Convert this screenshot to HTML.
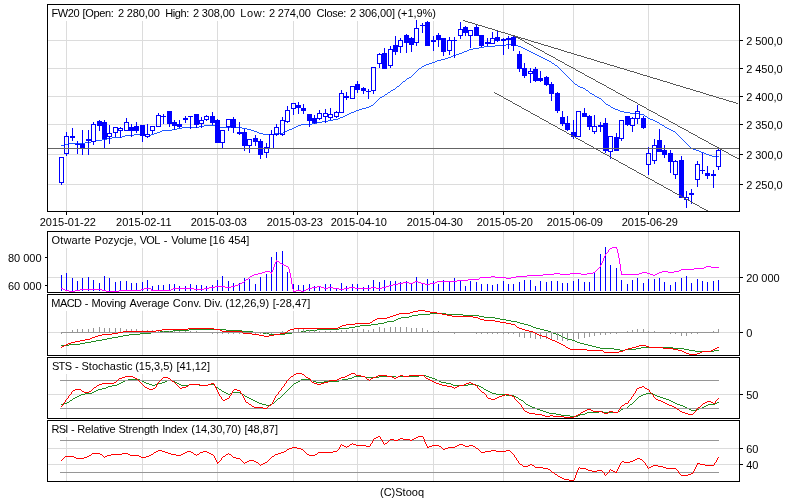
<!DOCTYPE html>
<html><head><meta charset="utf-8"><title>FW20</title>
<style>
html,body{margin:0;padding:0;background:#fff;overflow:hidden}
svg{display:block;will-change:transform}
text{font-family:"Liberation Sans",sans-serif;font-size:11px;fill:#000}
</style></head><body>
<svg width="800" height="500" viewBox="0 0 800 500" shape-rendering="crispEdges">
<rect x="0" y="0" width="800" height="500" fill="#fff"/>
<rect x="66" y="5" width="1" height="206" fill="#dcdcdc"/>
<rect x="142" y="5" width="1" height="206" fill="#dcdcdc"/>
<rect x="217" y="5" width="1" height="206" fill="#dcdcdc"/>
<rect x="293" y="5" width="1" height="206" fill="#dcdcdc"/>
<rect x="357" y="5" width="1" height="206" fill="#dcdcdc"/>
<rect x="433" y="5" width="1" height="206" fill="#dcdcdc"/>
<rect x="503" y="5" width="1" height="206" fill="#dcdcdc"/>
<rect x="573" y="5" width="1" height="206" fill="#dcdcdc"/>
<rect x="648" y="5" width="1" height="206" fill="#dcdcdc"/>
<rect x="48" y="40" width="691" height="1" fill="#dcdcdc"/>
<rect x="48" y="68" width="691" height="1" fill="#dcdcdc"/>
<rect x="48" y="96" width="691" height="1" fill="#dcdcdc"/>
<rect x="48" y="124" width="691" height="1" fill="#dcdcdc"/>
<rect x="48" y="154" width="691" height="1" fill="#dcdcdc"/>
<rect x="48" y="184" width="691" height="1" fill="#dcdcdc"/>
<rect x="48" y="5" width="391" height="16" fill="#fff"/>
<path fill="#2058ff" d="M506 44h9v1h-9zM495 45h11v1h-11zM515 45h3v1h-3zM484 46h11v1h-11zM518 46h3v1h-3zM479 47h5v1h-5zM521 47h2v1h-2zM473 48h6v1h-6zM523 48h2v1h-2zM469 49h4v1h-4zM525 49h2v1h-2zM467 50h2v1h-2zM527 50h2v1h-2zM464 51h3v1h-3zM529 51h2v1h-2zM462 52h2v1h-2zM531 52h2v1h-2zM459 53h3v1h-3zM533 53h2v1h-2zM456 54h3v1h-3zM535 54h2v1h-2zM453 55h3v1h-3zM537 55h2v1h-2zM451 56h2v1h-2zM539 56h2v1h-2zM448 57h3v1h-3zM541 57h2v1h-2zM445 58h3v1h-3zM543 58h2v1h-2zM441 59h4v1h-4zM545 59h2v1h-2zM437 60h4v1h-4zM547 60h2v1h-2zM435 61h2v1h-2zM549 61h2v1h-2zM432 62h3v1h-3zM551 62h1v1h-1zM429 63h3v1h-3zM552 63h2v1h-2zM426 64h3v1h-3zM554 64h1v1h-1zM424 65h2v1h-2zM555 65h2v1h-2zM422 66h2v1h-2zM557 66h1v1h-1zM421 67h1v1h-1zM558 67h1v1h-1zM419 68h2v1h-2zM559 68h1v1h-1zM418 69h1v1h-1zM560 69h1v1h-1zM417 70h1v1h-1zM561 70h1v1h-1zM416 71h1v1h-1zM562 71h1v1h-1zM415 72h1v1h-1zM563 72h1v1h-1zM414 73h1v1h-1zM564 73h1v1h-1zM413 74h1v1h-1zM565 74h1v1h-1zM412 75h1v1h-1zM566 75h1v1h-1zM411 76h1v1h-1zM567 76h1v1h-1zM409 77h2v1h-2zM568 77h1v1h-1zM407 78h2v1h-2zM569 78h1v1h-1zM406 79h1v1h-1zM570 79h1v1h-1zM405 80h1v1h-1zM571 80h1v1h-1zM403 81h2v1h-2zM572 81h1v1h-1zM402 82h1v1h-1zM573 82h1v1h-1zM401 83h1v1h-1zM574 83h1v1h-1zM400 84h1v1h-1zM575 84h2v1h-2zM399 85h1v1h-1zM577 85h1v1h-1zM397 86h2v1h-2zM578 86h2v1h-2zM396 87h1v1h-1zM580 87h3v1h-3zM395 88h1v1h-1zM583 88h2v1h-2zM393 89h2v1h-2zM585 89h1v1h-1zM391 90h2v1h-2zM586 90h2v1h-2zM390 91h1v1h-1zM588 91h1v1h-1zM388 92h2v1h-2zM589 92h1v1h-1zM387 93h1v1h-1zM590 93h2v1h-2zM385 94h2v1h-2zM592 94h2v1h-2zM384 95h1v1h-1zM594 95h1v1h-1zM382 96h2v1h-2zM595 96h2v1h-2zM380 97h2v1h-2zM597 97h2v1h-2zM379 98h1v1h-1zM599 98h2v1h-2zM378 99h1v1h-1zM601 99h1v1h-1zM377 100h1v1h-1zM602 100h1v1h-1zM376 101h1v1h-1zM603 101h1v1h-1zM375 102h1v1h-1zM604 102h1v1h-1zM374 103h1v1h-1zM605 103h1v1h-1zM373 104h1v1h-1zM606 104h2v1h-2zM371 105h2v1h-2zM608 105h2v1h-2zM369 106h2v1h-2zM610 106h1v1h-1zM366 107h3v1h-3zM611 107h2v1h-2zM362 108h4v1h-4zM613 108h2v1h-2zM359 109h3v1h-3zM615 109h3v1h-3zM356 110h3v1h-3zM618 110h2v1h-2zM354 111h2v1h-2zM620 111h4v1h-4zM351 112h3v1h-3zM624 112h6v1h-6zM349 113h2v1h-2zM630 113h10v1h-10zM347 114h2v1h-2zM640 114h4v1h-4zM345 115h2v1h-2zM644 115h1v1h-1zM343 116h2v1h-2zM645 116h2v1h-2zM340 117h3v1h-3zM647 117h1v1h-1zM338 118h2v1h-2zM648 118h2v1h-2zM333 119h5v1h-5zM650 119h3v1h-3zM328 120h5v1h-5zM653 120h2v1h-2zM322 121h6v1h-6zM655 121h2v1h-2zM317 122h5v1h-5zM657 122h2v1h-2zM312 123h5v1h-5zM659 123h1v1h-1zM301 124h11v1h-11zM660 124h2v1h-2zM204 125h11v1h-11zM298 125h3v1h-3zM662 125h2v1h-2zM199 126h5v1h-5zM215 126h5v1h-5zM231 126h5v1h-5zM296 126h2v1h-2zM664 126h1v1h-1zM182 127h17v1h-17zM220 127h11v1h-11zM236 127h6v1h-6zM294 127h2v1h-2zM665 127h2v1h-2zM177 128h5v1h-5zM242 128h5v1h-5zM292 128h2v1h-2zM667 128h2v1h-2zM172 129h5v1h-5zM247 129h4v1h-4zM289 129h3v1h-3zM669 129h2v1h-2zM162 130h10v1h-10zM251 130h3v1h-3zM287 130h2v1h-2zM671 130h2v1h-2zM160 131h2v1h-2zM254 131h3v1h-3zM285 131h2v1h-2zM673 131h2v1h-2zM157 132h3v1h-3zM257 132h2v1h-2zM283 132h2v1h-2zM675 132h1v1h-1zM154 133h3v1h-3zM259 133h4v1h-4zM274 133h9v1h-9zM676 133h1v1h-1zM134 134h10v1h-10zM151 134h3v1h-3zM263 134h11v1h-11zM677 134h1v1h-1zM125 135h9v1h-9zM144 135h2v1h-2zM149 135h2v1h-2zM678 135h1v1h-1zM122 136h3v1h-3zM146 136h3v1h-3zM679 136h1v1h-1zM112 137h10v1h-10zM680 137h1v1h-1zM107 138h5v1h-5zM681 138h1v1h-1zM102 139h5v1h-5zM682 139h1v1h-1zM96 140h6v1h-6zM683 140h1v1h-1zM91 141h5v1h-5zM684 141h1v1h-1zM85 142h6v1h-6zM685 142h1v1h-1zM69 143h16v1h-16zM686 143h1v1h-1zM64 144h5v1h-5zM687 144h1v1h-1zM61 145h3v1h-3zM688 145h1v1h-1zM689 146h1v1h-1zM690 147h1v1h-1zM691 148h2v1h-2zM693 149h3v1h-3zM696 150h3v1h-3zM699 151h2v1h-2zM701 152h3v1h-3zM704 153h2v1h-2zM706 154h3v1h-3zM709 155h3v1h-3zM712 156h7v1h-7z"/>
<rect x="61" y="183" width="1" height="2" fill="#0000ff"/>
<rect x="59" y="157" width="5" height="1" fill="#0000ff"/>
<rect x="59" y="182" width="5" height="1" fill="#0000ff"/>
<rect x="59" y="157" width="1" height="26" fill="#0000ff"/>
<rect x="63" y="157" width="1" height="26" fill="#0000ff"/>
<rect x="66" y="132" width="1" height="4" fill="#0000ff"/>
<rect x="66" y="154" width="1" height="2" fill="#0000ff"/>
<rect x="64" y="136" width="5" height="1" fill="#0000ff"/>
<rect x="64" y="153" width="5" height="1" fill="#0000ff"/>
<rect x="64" y="136" width="1" height="18" fill="#0000ff"/>
<rect x="68" y="136" width="1" height="18" fill="#0000ff"/>
<rect x="72" y="128" width="1" height="8" fill="#0000ff"/>
<rect x="72" y="138" width="1" height="3" fill="#0000ff"/>
<rect x="70" y="136" width="5" height="2" fill="#0000ff"/>
<rect x="77" y="141" width="1" height="3" fill="#0000ff"/>
<rect x="77" y="145" width="1" height="9" fill="#0000ff"/>
<rect x="75" y="144" width="5" height="1" fill="#0000ff"/>
<rect x="82" y="130" width="1" height="14" fill="#0000ff"/>
<rect x="82" y="148" width="1" height="7" fill="#0000ff"/>
<rect x="80" y="144" width="5" height="4" fill="#0000ff"/>
<rect x="88" y="130" width="1" height="9" fill="#0000ff"/>
<rect x="88" y="141" width="1" height="14" fill="#0000ff"/>
<rect x="86" y="139" width="5" height="2" fill="#0000ff"/>
<rect x="93" y="122" width="1" height="2" fill="#0000ff"/>
<rect x="93" y="142" width="1" height="3" fill="#0000ff"/>
<rect x="91" y="124" width="5" height="1" fill="#0000ff"/>
<rect x="91" y="141" width="5" height="1" fill="#0000ff"/>
<rect x="91" y="124" width="1" height="18" fill="#0000ff"/>
<rect x="95" y="124" width="1" height="18" fill="#0000ff"/>
<rect x="99" y="120" width="1" height="1" fill="#0000ff"/>
<rect x="99" y="126" width="1" height="5" fill="#0000ff"/>
<rect x="97" y="121" width="5" height="5" fill="#0000ff"/>
<rect x="104" y="120" width="1" height="2" fill="#0000ff"/>
<rect x="104" y="139" width="1" height="9" fill="#0000ff"/>
<rect x="102" y="122" width="5" height="17" fill="#0000ff"/>
<rect x="109" y="125" width="1" height="8" fill="#0000ff"/>
<rect x="109" y="137" width="1" height="7" fill="#0000ff"/>
<rect x="107" y="133" width="5" height="1" fill="#0000ff"/>
<rect x="107" y="136" width="5" height="1" fill="#0000ff"/>
<rect x="107" y="133" width="1" height="4" fill="#0000ff"/>
<rect x="111" y="133" width="1" height="4" fill="#0000ff"/>
<rect x="115" y="133" width="1" height="4" fill="#0000ff"/>
<rect x="113" y="127" width="5" height="1" fill="#0000ff"/>
<rect x="113" y="132" width="5" height="1" fill="#0000ff"/>
<rect x="113" y="127" width="1" height="6" fill="#0000ff"/>
<rect x="117" y="127" width="1" height="6" fill="#0000ff"/>
<rect x="120" y="127" width="1" height="1" fill="#0000ff"/>
<rect x="120" y="131" width="1" height="7" fill="#0000ff"/>
<rect x="118" y="128" width="5" height="1" fill="#0000ff"/>
<rect x="118" y="130" width="5" height="1" fill="#0000ff"/>
<rect x="118" y="128" width="1" height="3" fill="#0000ff"/>
<rect x="122" y="128" width="1" height="3" fill="#0000ff"/>
<rect x="126" y="118" width="1" height="4" fill="#0000ff"/>
<rect x="124" y="122" width="5" height="1" fill="#0000ff"/>
<rect x="124" y="130" width="5" height="1" fill="#0000ff"/>
<rect x="124" y="122" width="1" height="9" fill="#0000ff"/>
<rect x="128" y="122" width="1" height="9" fill="#0000ff"/>
<rect x="131" y="124" width="1" height="3" fill="#0000ff"/>
<rect x="131" y="131" width="1" height="6" fill="#0000ff"/>
<rect x="129" y="127" width="5" height="4" fill="#0000ff"/>
<rect x="136" y="122" width="1" height="4" fill="#0000ff"/>
<rect x="136" y="131" width="1" height="2" fill="#0000ff"/>
<rect x="134" y="126" width="5" height="5" fill="#0000ff"/>
<rect x="142" y="136" width="1" height="6" fill="#0000ff"/>
<rect x="140" y="125" width="5" height="11" fill="#0000ff"/>
<rect x="147" y="124" width="1" height="10" fill="#0000ff"/>
<rect x="147" y="137" width="1" height="1" fill="#0000ff"/>
<rect x="145" y="134" width="5" height="1" fill="#0000ff"/>
<rect x="145" y="136" width="5" height="1" fill="#0000ff"/>
<rect x="145" y="134" width="1" height="3" fill="#0000ff"/>
<rect x="149" y="134" width="1" height="3" fill="#0000ff"/>
<rect x="152" y="131" width="1" height="3" fill="#0000ff"/>
<rect x="150" y="126" width="5" height="1" fill="#0000ff"/>
<rect x="150" y="130" width="5" height="1" fill="#0000ff"/>
<rect x="150" y="126" width="1" height="5" fill="#0000ff"/>
<rect x="154" y="126" width="1" height="5" fill="#0000ff"/>
<rect x="158" y="113" width="1" height="2" fill="#0000ff"/>
<rect x="156" y="115" width="5" height="1" fill="#0000ff"/>
<rect x="156" y="126" width="5" height="1" fill="#0000ff"/>
<rect x="156" y="115" width="1" height="12" fill="#0000ff"/>
<rect x="160" y="115" width="1" height="12" fill="#0000ff"/>
<rect x="163" y="114" width="1" height="2" fill="#0000ff"/>
<rect x="163" y="117" width="1" height="7" fill="#0000ff"/>
<rect x="161" y="116" width="5" height="1" fill="#0000ff"/>
<rect x="169" y="124" width="1" height="3" fill="#0000ff"/>
<rect x="167" y="111" width="5" height="13" fill="#0000ff"/>
<rect x="174" y="120" width="1" height="2" fill="#0000ff"/>
<rect x="174" y="126" width="1" height="4" fill="#0000ff"/>
<rect x="172" y="122" width="5" height="4" fill="#0000ff"/>
<rect x="179" y="120" width="1" height="4" fill="#0000ff"/>
<rect x="179" y="127" width="1" height="1" fill="#0000ff"/>
<rect x="177" y="124" width="5" height="3" fill="#0000ff"/>
<rect x="185" y="116" width="1" height="2" fill="#0000ff"/>
<rect x="185" y="120" width="1" height="3" fill="#0000ff"/>
<rect x="183" y="118" width="5" height="2" fill="#0000ff"/>
<rect x="190" y="117" width="1" height="12" fill="#0000ff"/>
<rect x="188" y="116" width="5" height="1" fill="#0000ff"/>
<rect x="196" y="125" width="1" height="3" fill="#0000ff"/>
<rect x="194" y="114" width="5" height="11" fill="#0000ff"/>
<rect x="201" y="117" width="1" height="3" fill="#0000ff"/>
<rect x="201" y="124" width="1" height="4" fill="#0000ff"/>
<rect x="199" y="120" width="5" height="1" fill="#0000ff"/>
<rect x="199" y="123" width="5" height="1" fill="#0000ff"/>
<rect x="199" y="120" width="1" height="4" fill="#0000ff"/>
<rect x="203" y="120" width="1" height="4" fill="#0000ff"/>
<rect x="206" y="115" width="1" height="1" fill="#0000ff"/>
<rect x="206" y="120" width="1" height="1" fill="#0000ff"/>
<rect x="204" y="116" width="5" height="1" fill="#0000ff"/>
<rect x="204" y="119" width="5" height="1" fill="#0000ff"/>
<rect x="204" y="116" width="1" height="4" fill="#0000ff"/>
<rect x="208" y="116" width="1" height="4" fill="#0000ff"/>
<rect x="212" y="112" width="1" height="4" fill="#0000ff"/>
<rect x="212" y="123" width="1" height="2" fill="#0000ff"/>
<rect x="210" y="116" width="5" height="7" fill="#0000ff"/>
<rect x="217" y="119" width="1" height="1" fill="#0000ff"/>
<rect x="215" y="120" width="5" height="23" fill="#0000ff"/>
<rect x="222" y="143" width="1" height="5" fill="#0000ff"/>
<rect x="220" y="130" width="5" height="1" fill="#0000ff"/>
<rect x="220" y="142" width="5" height="1" fill="#0000ff"/>
<rect x="220" y="130" width="1" height="13" fill="#0000ff"/>
<rect x="224" y="130" width="1" height="13" fill="#0000ff"/>
<rect x="228" y="127" width="1" height="4" fill="#0000ff"/>
<rect x="226" y="119" width="5" height="1" fill="#0000ff"/>
<rect x="226" y="126" width="5" height="1" fill="#0000ff"/>
<rect x="226" y="119" width="1" height="8" fill="#0000ff"/>
<rect x="230" y="119" width="1" height="8" fill="#0000ff"/>
<rect x="233" y="117" width="1" height="2" fill="#0000ff"/>
<rect x="233" y="128" width="1" height="5" fill="#0000ff"/>
<rect x="231" y="119" width="5" height="9" fill="#0000ff"/>
<rect x="239" y="122" width="1" height="10" fill="#0000ff"/>
<rect x="239" y="134" width="1" height="1" fill="#0000ff"/>
<rect x="237" y="132" width="5" height="2" fill="#0000ff"/>
<rect x="244" y="129" width="1" height="3" fill="#0000ff"/>
<rect x="244" y="146" width="1" height="5" fill="#0000ff"/>
<rect x="242" y="132" width="5" height="14" fill="#0000ff"/>
<rect x="249" y="146" width="1" height="7" fill="#0000ff"/>
<rect x="247" y="139" width="5" height="1" fill="#0000ff"/>
<rect x="247" y="145" width="5" height="1" fill="#0000ff"/>
<rect x="247" y="139" width="1" height="7" fill="#0000ff"/>
<rect x="251" y="139" width="1" height="7" fill="#0000ff"/>
<rect x="255" y="135" width="1" height="3" fill="#0000ff"/>
<rect x="255" y="142" width="1" height="4" fill="#0000ff"/>
<rect x="253" y="138" width="5" height="4" fill="#0000ff"/>
<rect x="260" y="139" width="1" height="2" fill="#0000ff"/>
<rect x="260" y="155" width="1" height="4" fill="#0000ff"/>
<rect x="258" y="141" width="5" height="14" fill="#0000ff"/>
<rect x="266" y="143" width="1" height="4" fill="#0000ff"/>
<rect x="266" y="153" width="1" height="5" fill="#0000ff"/>
<rect x="264" y="147" width="5" height="1" fill="#0000ff"/>
<rect x="264" y="152" width="5" height="1" fill="#0000ff"/>
<rect x="264" y="147" width="1" height="6" fill="#0000ff"/>
<rect x="268" y="147" width="1" height="6" fill="#0000ff"/>
<rect x="271" y="130" width="1" height="4" fill="#0000ff"/>
<rect x="269" y="134" width="5" height="1" fill="#0000ff"/>
<rect x="269" y="148" width="5" height="1" fill="#0000ff"/>
<rect x="269" y="134" width="1" height="15" fill="#0000ff"/>
<rect x="273" y="134" width="1" height="15" fill="#0000ff"/>
<rect x="276" y="124" width="1" height="3" fill="#0000ff"/>
<rect x="276" y="135" width="1" height="1" fill="#0000ff"/>
<rect x="274" y="127" width="5" height="1" fill="#0000ff"/>
<rect x="274" y="134" width="5" height="1" fill="#0000ff"/>
<rect x="274" y="127" width="1" height="8" fill="#0000ff"/>
<rect x="278" y="127" width="1" height="8" fill="#0000ff"/>
<rect x="282" y="117" width="1" height="3" fill="#0000ff"/>
<rect x="282" y="135" width="1" height="1" fill="#0000ff"/>
<rect x="280" y="120" width="5" height="1" fill="#0000ff"/>
<rect x="280" y="134" width="5" height="1" fill="#0000ff"/>
<rect x="280" y="120" width="1" height="15" fill="#0000ff"/>
<rect x="284" y="120" width="1" height="15" fill="#0000ff"/>
<rect x="287" y="106" width="1" height="4" fill="#0000ff"/>
<rect x="287" y="122" width="1" height="1" fill="#0000ff"/>
<rect x="285" y="110" width="5" height="1" fill="#0000ff"/>
<rect x="285" y="121" width="5" height="1" fill="#0000ff"/>
<rect x="285" y="110" width="1" height="12" fill="#0000ff"/>
<rect x="289" y="110" width="1" height="12" fill="#0000ff"/>
<rect x="293" y="109" width="1" height="6" fill="#0000ff"/>
<rect x="291" y="103" width="5" height="1" fill="#0000ff"/>
<rect x="291" y="108" width="5" height="1" fill="#0000ff"/>
<rect x="291" y="103" width="1" height="6" fill="#0000ff"/>
<rect x="295" y="103" width="1" height="6" fill="#0000ff"/>
<rect x="298" y="102" width="1" height="3" fill="#0000ff"/>
<rect x="298" y="108" width="1" height="6" fill="#0000ff"/>
<rect x="296" y="105" width="5" height="3" fill="#0000ff"/>
<rect x="303" y="104" width="1" height="4" fill="#0000ff"/>
<rect x="303" y="111" width="1" height="3" fill="#0000ff"/>
<rect x="301" y="108" width="5" height="3" fill="#0000ff"/>
<rect x="309" y="121" width="1" height="6" fill="#0000ff"/>
<rect x="307" y="114" width="5" height="7" fill="#0000ff"/>
<rect x="314" y="115" width="1" height="3" fill="#0000ff"/>
<rect x="314" y="123" width="1" height="1" fill="#0000ff"/>
<rect x="312" y="118" width="5" height="5" fill="#0000ff"/>
<rect x="319" y="110" width="1" height="3" fill="#0000ff"/>
<rect x="319" y="119" width="1" height="1" fill="#0000ff"/>
<rect x="317" y="113" width="5" height="1" fill="#0000ff"/>
<rect x="317" y="118" width="5" height="1" fill="#0000ff"/>
<rect x="317" y="113" width="1" height="6" fill="#0000ff"/>
<rect x="321" y="113" width="1" height="6" fill="#0000ff"/>
<rect x="325" y="109" width="1" height="4" fill="#0000ff"/>
<rect x="325" y="117" width="1" height="6" fill="#0000ff"/>
<rect x="323" y="113" width="5" height="1" fill="#0000ff"/>
<rect x="323" y="116" width="5" height="1" fill="#0000ff"/>
<rect x="323" y="113" width="1" height="4" fill="#0000ff"/>
<rect x="327" y="113" width="1" height="4" fill="#0000ff"/>
<rect x="330" y="108" width="1" height="6" fill="#0000ff"/>
<rect x="330" y="118" width="1" height="2" fill="#0000ff"/>
<rect x="328" y="114" width="5" height="1" fill="#0000ff"/>
<rect x="328" y="117" width="5" height="1" fill="#0000ff"/>
<rect x="328" y="114" width="1" height="4" fill="#0000ff"/>
<rect x="332" y="114" width="1" height="4" fill="#0000ff"/>
<rect x="336" y="111" width="1" height="1" fill="#0000ff"/>
<rect x="336" y="117" width="1" height="1" fill="#0000ff"/>
<rect x="334" y="112" width="5" height="1" fill="#0000ff"/>
<rect x="334" y="116" width="5" height="1" fill="#0000ff"/>
<rect x="334" y="112" width="1" height="5" fill="#0000ff"/>
<rect x="338" y="112" width="1" height="5" fill="#0000ff"/>
<rect x="341" y="90" width="1" height="3" fill="#0000ff"/>
<rect x="339" y="93" width="5" height="1" fill="#0000ff"/>
<rect x="339" y="112" width="5" height="1" fill="#0000ff"/>
<rect x="339" y="93" width="1" height="20" fill="#0000ff"/>
<rect x="343" y="93" width="1" height="20" fill="#0000ff"/>
<rect x="346" y="92" width="1" height="4" fill="#0000ff"/>
<rect x="346" y="98" width="1" height="2" fill="#0000ff"/>
<rect x="344" y="96" width="5" height="2" fill="#0000ff"/>
<rect x="350" y="86" width="5" height="1" fill="#0000ff"/>
<rect x="350" y="98" width="5" height="1" fill="#0000ff"/>
<rect x="350" y="86" width="1" height="13" fill="#0000ff"/>
<rect x="354" y="86" width="1" height="13" fill="#0000ff"/>
<rect x="357" y="81" width="1" height="3" fill="#0000ff"/>
<rect x="357" y="90" width="1" height="3" fill="#0000ff"/>
<rect x="355" y="84" width="5" height="6" fill="#0000ff"/>
<rect x="363" y="87" width="1" height="1" fill="#0000ff"/>
<rect x="363" y="91" width="1" height="3" fill="#0000ff"/>
<rect x="361" y="88" width="5" height="3" fill="#0000ff"/>
<rect x="368" y="89" width="1" height="2" fill="#0000ff"/>
<rect x="368" y="92" width="1" height="7" fill="#0000ff"/>
<rect x="366" y="91" width="5" height="1" fill="#0000ff"/>
<rect x="373" y="91" width="1" height="3" fill="#0000ff"/>
<rect x="371" y="67" width="5" height="1" fill="#0000ff"/>
<rect x="371" y="90" width="5" height="1" fill="#0000ff"/>
<rect x="371" y="67" width="1" height="24" fill="#0000ff"/>
<rect x="375" y="67" width="1" height="24" fill="#0000ff"/>
<rect x="379" y="53" width="1" height="1" fill="#0000ff"/>
<rect x="379" y="64" width="1" height="4" fill="#0000ff"/>
<rect x="377" y="54" width="5" height="1" fill="#0000ff"/>
<rect x="377" y="63" width="5" height="1" fill="#0000ff"/>
<rect x="377" y="54" width="1" height="10" fill="#0000ff"/>
<rect x="381" y="54" width="1" height="10" fill="#0000ff"/>
<rect x="384" y="48" width="1" height="5" fill="#0000ff"/>
<rect x="382" y="53" width="5" height="16" fill="#0000ff"/>
<rect x="390" y="46" width="1" height="3" fill="#0000ff"/>
<rect x="390" y="66" width="1" height="2" fill="#0000ff"/>
<rect x="388" y="49" width="5" height="1" fill="#0000ff"/>
<rect x="388" y="65" width="5" height="1" fill="#0000ff"/>
<rect x="388" y="49" width="1" height="17" fill="#0000ff"/>
<rect x="392" y="49" width="1" height="17" fill="#0000ff"/>
<rect x="395" y="36" width="1" height="9" fill="#0000ff"/>
<rect x="395" y="52" width="1" height="3" fill="#0000ff"/>
<rect x="393" y="45" width="5" height="7" fill="#0000ff"/>
<rect x="400" y="38" width="1" height="2" fill="#0000ff"/>
<rect x="400" y="47" width="1" height="6" fill="#0000ff"/>
<rect x="398" y="40" width="5" height="1" fill="#0000ff"/>
<rect x="398" y="46" width="5" height="1" fill="#0000ff"/>
<rect x="398" y="40" width="1" height="7" fill="#0000ff"/>
<rect x="402" y="40" width="1" height="7" fill="#0000ff"/>
<rect x="406" y="34" width="1" height="1" fill="#0000ff"/>
<rect x="406" y="43" width="1" height="10" fill="#0000ff"/>
<rect x="404" y="35" width="5" height="8" fill="#0000ff"/>
<rect x="411" y="37" width="1" height="1" fill="#0000ff"/>
<rect x="411" y="45" width="1" height="7" fill="#0000ff"/>
<rect x="409" y="38" width="5" height="7" fill="#0000ff"/>
<rect x="416" y="20" width="1" height="8" fill="#0000ff"/>
<rect x="416" y="43" width="1" height="3" fill="#0000ff"/>
<rect x="414" y="28" width="5" height="1" fill="#0000ff"/>
<rect x="414" y="42" width="5" height="1" fill="#0000ff"/>
<rect x="414" y="28" width="1" height="15" fill="#0000ff"/>
<rect x="418" y="28" width="1" height="15" fill="#0000ff"/>
<rect x="422" y="23" width="1" height="2" fill="#0000ff"/>
<rect x="422" y="26" width="1" height="7" fill="#0000ff"/>
<rect x="420" y="25" width="5" height="1" fill="#0000ff"/>
<rect x="427" y="21" width="1" height="1" fill="#0000ff"/>
<rect x="425" y="22" width="5" height="24" fill="#0000ff"/>
<rect x="433" y="36" width="1" height="4" fill="#0000ff"/>
<rect x="433" y="42" width="1" height="9" fill="#0000ff"/>
<rect x="431" y="40" width="5" height="2" fill="#0000ff"/>
<rect x="438" y="33" width="1" height="2" fill="#0000ff"/>
<rect x="438" y="40" width="1" height="7" fill="#0000ff"/>
<rect x="436" y="35" width="5" height="5" fill="#0000ff"/>
<rect x="443" y="52" width="1" height="4" fill="#0000ff"/>
<rect x="441" y="38" width="5" height="14" fill="#0000ff"/>
<rect x="449" y="37" width="1" height="3" fill="#0000ff"/>
<rect x="449" y="51" width="1" height="4" fill="#0000ff"/>
<rect x="447" y="40" width="5" height="1" fill="#0000ff"/>
<rect x="447" y="50" width="5" height="1" fill="#0000ff"/>
<rect x="447" y="40" width="1" height="11" fill="#0000ff"/>
<rect x="451" y="40" width="1" height="11" fill="#0000ff"/>
<rect x="454" y="37" width="1" height="3" fill="#0000ff"/>
<rect x="454" y="41" width="1" height="17" fill="#0000ff"/>
<rect x="452" y="40" width="5" height="1" fill="#0000ff"/>
<rect x="460" y="22" width="1" height="7" fill="#0000ff"/>
<rect x="460" y="36" width="1" height="3" fill="#0000ff"/>
<rect x="458" y="29" width="5" height="1" fill="#0000ff"/>
<rect x="458" y="35" width="5" height="1" fill="#0000ff"/>
<rect x="458" y="29" width="1" height="7" fill="#0000ff"/>
<rect x="462" y="29" width="1" height="7" fill="#0000ff"/>
<rect x="465" y="26" width="1" height="1" fill="#0000ff"/>
<rect x="465" y="33" width="1" height="3" fill="#0000ff"/>
<rect x="463" y="27" width="5" height="6" fill="#0000ff"/>
<rect x="470" y="36" width="1" height="12" fill="#0000ff"/>
<rect x="468" y="30" width="5" height="1" fill="#0000ff"/>
<rect x="468" y="35" width="5" height="1" fill="#0000ff"/>
<rect x="468" y="30" width="1" height="6" fill="#0000ff"/>
<rect x="472" y="30" width="1" height="6" fill="#0000ff"/>
<rect x="476" y="25" width="1" height="2" fill="#0000ff"/>
<rect x="474" y="27" width="5" height="9" fill="#0000ff"/>
<rect x="481" y="46" width="1" height="1" fill="#0000ff"/>
<rect x="479" y="35" width="5" height="11" fill="#0000ff"/>
<rect x="487" y="38" width="1" height="4" fill="#0000ff"/>
<rect x="487" y="44" width="1" height="2" fill="#0000ff"/>
<rect x="485" y="42" width="5" height="2" fill="#0000ff"/>
<rect x="492" y="32" width="1" height="6" fill="#0000ff"/>
<rect x="490" y="38" width="5" height="1" fill="#0000ff"/>
<rect x="490" y="43" width="5" height="1" fill="#0000ff"/>
<rect x="490" y="38" width="1" height="6" fill="#0000ff"/>
<rect x="494" y="38" width="1" height="6" fill="#0000ff"/>
<rect x="497" y="31" width="1" height="6" fill="#0000ff"/>
<rect x="497" y="41" width="1" height="1" fill="#0000ff"/>
<rect x="495" y="37" width="5" height="4" fill="#0000ff"/>
<rect x="503" y="38" width="1" height="1" fill="#0000ff"/>
<rect x="503" y="41" width="1" height="14" fill="#0000ff"/>
<rect x="501" y="39" width="5" height="2" fill="#0000ff"/>
<rect x="508" y="36" width="1" height="2" fill="#0000ff"/>
<rect x="508" y="40" width="1" height="9" fill="#0000ff"/>
<rect x="506" y="38" width="5" height="2" fill="#0000ff"/>
<rect x="513" y="35" width="1" height="2" fill="#0000ff"/>
<rect x="513" y="46" width="1" height="5" fill="#0000ff"/>
<rect x="511" y="37" width="5" height="9" fill="#0000ff"/>
<rect x="519" y="51" width="1" height="3" fill="#0000ff"/>
<rect x="519" y="69" width="1" height="3" fill="#0000ff"/>
<rect x="517" y="54" width="5" height="15" fill="#0000ff"/>
<rect x="524" y="63" width="1" height="5" fill="#0000ff"/>
<rect x="524" y="76" width="1" height="2" fill="#0000ff"/>
<rect x="522" y="68" width="5" height="8" fill="#0000ff"/>
<rect x="530" y="68" width="1" height="3" fill="#0000ff"/>
<rect x="530" y="74" width="1" height="9" fill="#0000ff"/>
<rect x="528" y="71" width="5" height="1" fill="#0000ff"/>
<rect x="528" y="73" width="5" height="1" fill="#0000ff"/>
<rect x="528" y="71" width="1" height="3" fill="#0000ff"/>
<rect x="532" y="71" width="1" height="3" fill="#0000ff"/>
<rect x="535" y="67" width="1" height="2" fill="#0000ff"/>
<rect x="535" y="81" width="1" height="1" fill="#0000ff"/>
<rect x="533" y="69" width="5" height="12" fill="#0000ff"/>
<rect x="540" y="71" width="1" height="7" fill="#0000ff"/>
<rect x="540" y="81" width="1" height="1" fill="#0000ff"/>
<rect x="538" y="78" width="5" height="3" fill="#0000ff"/>
<rect x="546" y="76" width="1" height="1" fill="#0000ff"/>
<rect x="546" y="85" width="1" height="1" fill="#0000ff"/>
<rect x="544" y="77" width="5" height="8" fill="#0000ff"/>
<rect x="551" y="82" width="1" height="2" fill="#0000ff"/>
<rect x="551" y="94" width="1" height="7" fill="#0000ff"/>
<rect x="549" y="84" width="5" height="10" fill="#0000ff"/>
<rect x="557" y="92" width="1" height="1" fill="#0000ff"/>
<rect x="557" y="111" width="1" height="2" fill="#0000ff"/>
<rect x="555" y="93" width="5" height="18" fill="#0000ff"/>
<rect x="562" y="111" width="1" height="6" fill="#0000ff"/>
<rect x="562" y="124" width="1" height="2" fill="#0000ff"/>
<rect x="560" y="117" width="5" height="7" fill="#0000ff"/>
<rect x="567" y="116" width="1" height="7" fill="#0000ff"/>
<rect x="567" y="130" width="1" height="1" fill="#0000ff"/>
<rect x="565" y="123" width="5" height="7" fill="#0000ff"/>
<rect x="573" y="120" width="1" height="12" fill="#0000ff"/>
<rect x="573" y="137" width="1" height="2" fill="#0000ff"/>
<rect x="571" y="132" width="5" height="5" fill="#0000ff"/>
<rect x="576" y="111" width="5" height="1" fill="#0000ff"/>
<rect x="576" y="136" width="5" height="1" fill="#0000ff"/>
<rect x="576" y="111" width="1" height="26" fill="#0000ff"/>
<rect x="580" y="111" width="1" height="26" fill="#0000ff"/>
<rect x="584" y="108" width="1" height="5" fill="#0000ff"/>
<rect x="582" y="113" width="5" height="4" fill="#0000ff"/>
<rect x="589" y="115" width="1" height="1" fill="#0000ff"/>
<rect x="589" y="127" width="1" height="3" fill="#0000ff"/>
<rect x="587" y="116" width="5" height="11" fill="#0000ff"/>
<rect x="594" y="115" width="1" height="11" fill="#0000ff"/>
<rect x="594" y="132" width="1" height="2" fill="#0000ff"/>
<rect x="592" y="126" width="5" height="1" fill="#0000ff"/>
<rect x="592" y="131" width="5" height="1" fill="#0000ff"/>
<rect x="592" y="126" width="1" height="6" fill="#0000ff"/>
<rect x="596" y="126" width="1" height="6" fill="#0000ff"/>
<rect x="600" y="122" width="1" height="3" fill="#0000ff"/>
<rect x="600" y="127" width="1" height="5" fill="#0000ff"/>
<rect x="598" y="125" width="5" height="2" fill="#0000ff"/>
<rect x="605" y="118" width="1" height="5" fill="#0000ff"/>
<rect x="605" y="151" width="1" height="2" fill="#0000ff"/>
<rect x="603" y="123" width="5" height="28" fill="#0000ff"/>
<rect x="610" y="152" width="1" height="7" fill="#0000ff"/>
<rect x="608" y="136" width="5" height="1" fill="#0000ff"/>
<rect x="608" y="151" width="5" height="1" fill="#0000ff"/>
<rect x="608" y="136" width="1" height="16" fill="#0000ff"/>
<rect x="612" y="136" width="1" height="16" fill="#0000ff"/>
<rect x="616" y="133" width="1" height="4" fill="#0000ff"/>
<rect x="614" y="137" width="5" height="14" fill="#0000ff"/>
<rect x="621" y="139" width="1" height="2" fill="#0000ff"/>
<rect x="619" y="120" width="5" height="1" fill="#0000ff"/>
<rect x="619" y="138" width="5" height="1" fill="#0000ff"/>
<rect x="619" y="120" width="1" height="19" fill="#0000ff"/>
<rect x="623" y="120" width="1" height="19" fill="#0000ff"/>
<rect x="627" y="125" width="1" height="1" fill="#0000ff"/>
<rect x="625" y="116" width="5" height="9" fill="#0000ff"/>
<rect x="632" y="117" width="1" height="1" fill="#0000ff"/>
<rect x="632" y="126" width="1" height="6" fill="#0000ff"/>
<rect x="630" y="118" width="5" height="1" fill="#0000ff"/>
<rect x="630" y="125" width="5" height="1" fill="#0000ff"/>
<rect x="630" y="118" width="1" height="8" fill="#0000ff"/>
<rect x="634" y="118" width="1" height="8" fill="#0000ff"/>
<rect x="637" y="105" width="1" height="6" fill="#0000ff"/>
<rect x="637" y="119" width="1" height="5" fill="#0000ff"/>
<rect x="635" y="111" width="5" height="1" fill="#0000ff"/>
<rect x="635" y="118" width="5" height="1" fill="#0000ff"/>
<rect x="635" y="111" width="1" height="8" fill="#0000ff"/>
<rect x="639" y="111" width="1" height="8" fill="#0000ff"/>
<rect x="643" y="116" width="1" height="2" fill="#0000ff"/>
<rect x="643" y="128" width="1" height="1" fill="#0000ff"/>
<rect x="641" y="118" width="5" height="10" fill="#0000ff"/>
<rect x="648" y="147" width="1" height="6" fill="#0000ff"/>
<rect x="648" y="165" width="1" height="10" fill="#0000ff"/>
<rect x="646" y="153" width="5" height="1" fill="#0000ff"/>
<rect x="646" y="164" width="5" height="1" fill="#0000ff"/>
<rect x="646" y="153" width="1" height="12" fill="#0000ff"/>
<rect x="650" y="153" width="1" height="12" fill="#0000ff"/>
<rect x="654" y="139" width="1" height="6" fill="#0000ff"/>
<rect x="654" y="161" width="1" height="3" fill="#0000ff"/>
<rect x="652" y="145" width="5" height="1" fill="#0000ff"/>
<rect x="652" y="160" width="5" height="1" fill="#0000ff"/>
<rect x="652" y="145" width="1" height="16" fill="#0000ff"/>
<rect x="656" y="145" width="1" height="16" fill="#0000ff"/>
<rect x="659" y="129" width="1" height="11" fill="#0000ff"/>
<rect x="657" y="140" width="5" height="12" fill="#0000ff"/>
<rect x="664" y="145" width="1" height="5" fill="#0000ff"/>
<rect x="664" y="155" width="1" height="3" fill="#0000ff"/>
<rect x="662" y="150" width="5" height="5" fill="#0000ff"/>
<rect x="670" y="150" width="1" height="3" fill="#0000ff"/>
<rect x="670" y="162" width="1" height="11" fill="#0000ff"/>
<rect x="668" y="153" width="5" height="9" fill="#0000ff"/>
<rect x="675" y="160" width="1" height="1" fill="#0000ff"/>
<rect x="675" y="175" width="1" height="4" fill="#0000ff"/>
<rect x="673" y="161" width="5" height="1" fill="#0000ff"/>
<rect x="673" y="174" width="5" height="1" fill="#0000ff"/>
<rect x="673" y="161" width="1" height="14" fill="#0000ff"/>
<rect x="677" y="161" width="1" height="14" fill="#0000ff"/>
<rect x="681" y="156" width="1" height="4" fill="#0000ff"/>
<rect x="679" y="160" width="5" height="38" fill="#0000ff"/>
<rect x="686" y="191" width="1" height="6" fill="#0000ff"/>
<rect x="686" y="200" width="1" height="8" fill="#0000ff"/>
<rect x="684" y="197" width="5" height="1" fill="#0000ff"/>
<rect x="684" y="199" width="5" height="1" fill="#0000ff"/>
<rect x="684" y="197" width="1" height="3" fill="#0000ff"/>
<rect x="688" y="197" width="1" height="3" fill="#0000ff"/>
<rect x="691" y="189" width="1" height="4" fill="#0000ff"/>
<rect x="691" y="195" width="1" height="9" fill="#0000ff"/>
<rect x="689" y="193" width="5" height="2" fill="#0000ff"/>
<rect x="697" y="161" width="1" height="3" fill="#0000ff"/>
<rect x="697" y="180" width="1" height="7" fill="#0000ff"/>
<rect x="695" y="164" width="5" height="1" fill="#0000ff"/>
<rect x="695" y="179" width="5" height="1" fill="#0000ff"/>
<rect x="695" y="164" width="1" height="16" fill="#0000ff"/>
<rect x="699" y="164" width="1" height="16" fill="#0000ff"/>
<rect x="702" y="153" width="1" height="17" fill="#0000ff"/>
<rect x="702" y="171" width="1" height="3" fill="#0000ff"/>
<rect x="700" y="170" width="5" height="1" fill="#0000ff"/>
<rect x="707" y="166" width="1" height="7" fill="#0000ff"/>
<rect x="707" y="176" width="1" height="3" fill="#0000ff"/>
<rect x="705" y="173" width="5" height="3" fill="#0000ff"/>
<rect x="713" y="170" width="1" height="4" fill="#0000ff"/>
<rect x="713" y="176" width="1" height="12" fill="#0000ff"/>
<rect x="711" y="174" width="5" height="2" fill="#0000ff"/>
<rect x="718" y="149" width="1" height="1" fill="#0000ff"/>
<rect x="718" y="167" width="1" height="3" fill="#0000ff"/>
<rect x="716" y="150" width="5" height="1" fill="#0000ff"/>
<rect x="716" y="166" width="5" height="1" fill="#0000ff"/>
<rect x="716" y="150" width="1" height="17" fill="#0000ff"/>
<rect x="720" y="150" width="1" height="17" fill="#0000ff"/>
<rect x="48" y="148" width="691" height="1" fill="#646464"/>
<path fill="#585858" d="M463 20h2v1h-2zM465 21h3v1h-3zM468 22h4v1h-4zM472 23h3v1h-3zM475 24h3v1h-3zM478 25h4v1h-4zM482 26h3v1h-3zM485 27h3v1h-3zM488 28h4v1h-4zM492 29h3v1h-3zM495 30h3v1h-3zM498 31h3v1h-3zM501 32h4v1h-4zM505 33h3v1h-3zM508 34h3v1h-3zM511 35h4v1h-4zM515 36h3v1h-3zM518 37h3v1h-3zM521 38h4v1h-4zM525 39h3v1h-3zM528 40h3v1h-3zM531 41h3v1h-3zM534 42h4v1h-4zM538 43h3v1h-3zM541 44h3v1h-3zM544 45h4v1h-4zM548 46h3v1h-3zM551 47h3v1h-3zM554 48h4v1h-4zM558 49h3v1h-3zM561 50h3v1h-3zM564 51h3v1h-3zM567 52h4v1h-4zM571 53h3v1h-3zM574 54h3v1h-3zM577 55h4v1h-4zM581 56h3v1h-3zM584 57h3v1h-3zM587 58h4v1h-4zM591 59h3v1h-3zM594 60h3v1h-3zM597 61h3v1h-3zM600 62h4v1h-4zM604 63h3v1h-3zM607 64h3v1h-3zM610 65h4v1h-4zM614 66h3v1h-3zM617 67h3v1h-3zM620 68h4v1h-4zM624 69h3v1h-3zM627 70h3v1h-3zM630 71h4v1h-4zM634 72h3v1h-3zM637 73h3v1h-3zM640 74h3v1h-3zM643 75h4v1h-4zM647 76h3v1h-3zM650 77h3v1h-3zM653 78h4v1h-4zM657 79h3v1h-3zM660 80h3v1h-3zM663 81h4v1h-4zM667 82h3v1h-3zM670 83h3v1h-3zM673 84h3v1h-3zM676 85h4v1h-4zM680 86h3v1h-3zM683 87h3v1h-3zM686 88h4v1h-4zM690 89h3v1h-3zM693 90h3v1h-3zM696 91h4v1h-4zM700 92h3v1h-3zM703 93h3v1h-3zM706 94h3v1h-3zM709 95h4v1h-4zM713 96h3v1h-3zM716 97h3v1h-3zM719 98h4v1h-4zM723 99h3v1h-3zM726 100h3v1h-3zM729 101h4v1h-4zM733 102h3v1h-3zM736 103h2v1h-2z"/>
<path fill="#585858" d="M513 35h1v1h-1zM514 36h2v1h-2zM516 37h2v1h-2zM518 38h2v1h-2zM520 39h2v1h-2zM522 40h2v1h-2zM524 41h1v1h-1zM525 42h2v1h-2zM527 43h2v1h-2zM529 44h2v1h-2zM531 45h2v1h-2zM533 46h1v1h-1zM534 47h2v1h-2zM536 48h2v1h-2zM538 49h2v1h-2zM540 50h2v1h-2zM542 51h2v1h-2zM544 52h1v1h-1zM545 53h2v1h-2zM547 54h2v1h-2zM549 55h2v1h-2zM551 56h2v1h-2zM553 57h2v1h-2zM555 58h1v1h-1zM556 59h2v1h-2zM558 60h2v1h-2zM560 61h2v1h-2zM562 62h2v1h-2zM564 63h1v1h-1zM565 64h2v1h-2zM567 65h2v1h-2zM569 66h2v1h-2zM571 67h2v1h-2zM573 68h2v1h-2zM575 69h1v1h-1zM576 70h2v1h-2zM578 71h2v1h-2zM580 72h2v1h-2zM582 73h2v1h-2zM584 74h1v1h-1zM585 75h2v1h-2zM587 76h2v1h-2zM589 77h2v1h-2zM591 78h2v1h-2zM593 79h2v1h-2zM595 80h1v1h-1zM596 81h2v1h-2zM598 82h2v1h-2zM600 83h2v1h-2zM602 84h2v1h-2zM604 85h2v1h-2zM606 86h1v1h-1zM607 87h2v1h-2zM609 88h2v1h-2zM611 89h2v1h-2zM613 90h2v1h-2zM615 91h1v1h-1zM616 92h2v1h-2zM618 93h2v1h-2zM620 94h2v1h-2zM622 95h2v1h-2zM624 96h2v1h-2zM626 97h1v1h-1zM627 98h2v1h-2zM629 99h2v1h-2zM631 100h2v1h-2zM633 101h2v1h-2zM635 102h2v1h-2zM637 103h1v1h-1zM638 104h2v1h-2zM640 105h2v1h-2zM642 106h2v1h-2zM644 107h2v1h-2zM646 108h1v1h-1zM647 109h2v1h-2zM649 110h2v1h-2zM651 111h2v1h-2zM653 112h2v1h-2zM655 113h2v1h-2zM657 114h1v1h-1zM658 115h2v1h-2zM660 116h2v1h-2zM662 117h2v1h-2zM664 118h2v1h-2zM666 119h2v1h-2zM668 120h1v1h-1zM669 121h2v1h-2zM671 122h2v1h-2zM673 123h2v1h-2zM675 124h2v1h-2zM677 125h1v1h-1zM678 126h2v1h-2zM680 127h2v1h-2zM682 128h2v1h-2zM684 129h2v1h-2zM686 130h2v1h-2zM688 131h1v1h-1zM689 132h2v1h-2zM691 133h2v1h-2zM693 134h2v1h-2zM695 135h2v1h-2zM697 136h1v1h-1zM698 137h2v1h-2zM700 138h2v1h-2zM702 139h2v1h-2zM704 140h2v1h-2zM706 141h2v1h-2zM708 142h1v1h-1zM709 143h2v1h-2zM711 144h2v1h-2zM713 145h2v1h-2zM715 146h2v1h-2zM717 147h2v1h-2zM719 148h1v1h-1zM720 149h2v1h-2zM722 150h2v1h-2zM724 151h2v1h-2zM726 152h2v1h-2zM728 153h1v1h-1zM729 154h2v1h-2zM731 155h2v1h-2zM733 156h2v1h-2zM735 157h2v1h-2zM737 158h2v1h-2zM739 159h1v1h-1z"/>
<path fill="#585858" d="M494 92h1v1h-1zM495 93h2v1h-2zM497 94h2v1h-2zM499 95h2v1h-2zM501 96h2v1h-2zM503 97h1v1h-1zM504 98h2v1h-2zM506 99h2v1h-2zM508 100h2v1h-2zM510 101h2v1h-2zM512 102h1v1h-1zM513 103h2v1h-2zM515 104h2v1h-2zM517 105h2v1h-2zM519 106h2v1h-2zM521 107h1v1h-1zM522 108h2v1h-2zM524 109h2v1h-2zM526 110h2v1h-2zM528 111h2v1h-2zM530 112h1v1h-1zM531 113h2v1h-2zM533 114h2v1h-2zM535 115h2v1h-2zM537 116h2v1h-2zM539 117h1v1h-1zM540 118h2v1h-2zM542 119h2v1h-2zM544 120h2v1h-2zM546 121h2v1h-2zM548 122h1v1h-1zM549 123h2v1h-2zM551 124h2v1h-2zM553 125h2v1h-2zM555 126h2v1h-2zM557 127h1v1h-1zM558 128h2v1h-2zM560 129h2v1h-2zM562 130h2v1h-2zM564 131h2v1h-2zM566 132h1v1h-1zM567 133h2v1h-2zM569 134h2v1h-2zM571 135h2v1h-2zM573 136h2v1h-2zM575 137h1v1h-1zM576 138h2v1h-2zM578 139h2v1h-2zM580 140h2v1h-2zM582 141h2v1h-2zM584 142h1v1h-1zM585 143h2v1h-2zM587 144h2v1h-2zM589 145h2v1h-2zM591 146h2v1h-2zM593 147h1v1h-1zM594 148h2v1h-2zM596 149h2v1h-2zM598 150h2v1h-2zM600 151h1v1h-1zM601 152h2v1h-2zM603 153h2v1h-2zM605 154h2v1h-2zM607 155h2v1h-2zM609 156h1v1h-1zM610 157h2v1h-2zM612 158h2v1h-2zM614 159h2v1h-2zM616 160h2v1h-2zM618 161h1v1h-1zM619 162h2v1h-2zM621 163h2v1h-2zM623 164h2v1h-2zM625 165h2v1h-2zM627 166h1v1h-1zM628 167h2v1h-2zM630 168h2v1h-2zM632 169h2v1h-2zM634 170h2v1h-2zM636 171h1v1h-1zM637 172h2v1h-2zM639 173h2v1h-2zM641 174h2v1h-2zM643 175h2v1h-2zM645 176h1v1h-1zM646 177h2v1h-2zM648 178h2v1h-2zM650 179h2v1h-2zM652 180h2v1h-2zM654 181h1v1h-1zM655 182h2v1h-2zM657 183h2v1h-2zM659 184h2v1h-2zM661 185h2v1h-2zM663 186h1v1h-1zM664 187h2v1h-2zM666 188h2v1h-2zM668 189h2v1h-2zM670 190h2v1h-2zM672 191h1v1h-1zM673 192h2v1h-2zM675 193h2v1h-2zM677 194h2v1h-2zM679 195h2v1h-2zM681 196h1v1h-1zM682 197h2v1h-2zM684 198h2v1h-2zM686 199h2v1h-2zM688 200h2v1h-2zM690 201h1v1h-1zM691 202h2v1h-2zM693 203h2v1h-2zM695 204h2v1h-2zM697 205h2v1h-2zM699 206h1v1h-1zM700 207h2v1h-2zM702 208h2v1h-2zM704 209h2v1h-2zM706 210h2v1h-2zM708 211h1v1h-1z"/>
<rect x="47.5" y="4.5" width="692" height="207" fill="none" stroke="#000" stroke-width="1"/>
<text y="17"><tspan x="51.45" letter-spacing="-0.360">FW20</tspan><tspan x="82.40" letter-spacing="-0.301">[Open:</tspan><tspan x="117.93" letter-spacing="-0.118">2 280,00</tspan><tspan x="165.19" letter-spacing="-0.362">High:</tspan><tspan x="192.93" letter-spacing="-0.118">2 308,00</tspan><tspan x="240.35" letter-spacing="0.609">Low:</tspan><tspan x="268.93" letter-spacing="-0.118">2 274,00</tspan><tspan x="316.60" letter-spacing="-0.272">Close:</tspan><tspan x="349.93" letter-spacing="-0.087">2 306,00]</tspan><tspan x="397.48" letter-spacing="-0.048">(+1,9%)</tspan></text>
<rect x="740" y="40" width="3" height="1" fill="#000"/>
<text x="746.3" y="45" text-anchor="start" xml:space="preserve" letter-spacing="-0.08">2 500,0</text>
<rect x="740" y="68" width="3" height="1" fill="#000"/>
<text x="746.3" y="73" text-anchor="start" xml:space="preserve" letter-spacing="-0.08">2 450,0</text>
<rect x="740" y="96" width="3" height="1" fill="#000"/>
<text x="746.3" y="101" text-anchor="start" xml:space="preserve" letter-spacing="-0.08">2 400,0</text>
<rect x="740" y="124" width="3" height="1" fill="#000"/>
<text x="746.3" y="129" text-anchor="start" xml:space="preserve" letter-spacing="-0.08">2 350,0</text>
<rect x="740" y="154" width="3" height="1" fill="#000"/>
<text x="746.3" y="159" text-anchor="start" xml:space="preserve" letter-spacing="-0.08">2 300,0</text>
<rect x="740" y="184" width="3" height="1" fill="#000"/>
<text x="746.3" y="189" text-anchor="start" xml:space="preserve" letter-spacing="-0.08">2 250,0</text>
<rect x="66" y="212" width="1" height="3" fill="#000"/>
<text x="67.8" y="226" text-anchor="middle" xml:space="preserve">2015-01-22</text>
<rect x="142" y="212" width="1" height="3" fill="#000"/>
<text x="143.8" y="226" text-anchor="middle" xml:space="preserve">2015-02-11</text>
<rect x="217" y="212" width="1" height="3" fill="#000"/>
<text x="218.8" y="226" text-anchor="middle" xml:space="preserve">2015-03-03</text>
<rect x="293" y="212" width="1" height="3" fill="#000"/>
<text x="294.8" y="226" text-anchor="middle" xml:space="preserve">2015-03-23</text>
<rect x="357" y="212" width="1" height="3" fill="#000"/>
<text x="358.8" y="226" text-anchor="middle" xml:space="preserve">2015-04-10</text>
<rect x="433" y="212" width="1" height="3" fill="#000"/>
<text x="434.8" y="226" text-anchor="middle" xml:space="preserve">2015-04-30</text>
<rect x="503" y="212" width="1" height="3" fill="#000"/>
<text x="504.8" y="226" text-anchor="middle" xml:space="preserve">2015-05-20</text>
<rect x="573" y="212" width="1" height="3" fill="#000"/>
<text x="574.8" y="226" text-anchor="middle" xml:space="preserve">2015-06-09</text>
<rect x="648" y="212" width="1" height="3" fill="#000"/>
<text x="649.8" y="226" text-anchor="middle" xml:space="preserve">2015-06-29</text>
<rect x="66" y="232" width="1" height="60" fill="#dcdcdc"/>
<rect x="142" y="232" width="1" height="60" fill="#dcdcdc"/>
<rect x="217" y="232" width="1" height="60" fill="#dcdcdc"/>
<rect x="293" y="232" width="1" height="60" fill="#dcdcdc"/>
<rect x="357" y="232" width="1" height="60" fill="#dcdcdc"/>
<rect x="433" y="232" width="1" height="60" fill="#dcdcdc"/>
<rect x="503" y="232" width="1" height="60" fill="#dcdcdc"/>
<rect x="573" y="232" width="1" height="60" fill="#dcdcdc"/>
<rect x="648" y="232" width="1" height="60" fill="#dcdcdc"/>
<rect x="48" y="277" width="691" height="1" fill="#dcdcdc"/>
<rect x="48" y="232" width="203" height="16" fill="#fff"/>
<rect x="61" y="275" width="1" height="16" fill="#0000ff"/>
<rect x="66" y="273" width="1" height="18" fill="#0000ff"/>
<rect x="72" y="278" width="1" height="13" fill="#0000ff"/>
<rect x="77" y="281" width="1" height="10" fill="#0000ff"/>
<rect x="82" y="278" width="1" height="13" fill="#0000ff"/>
<rect x="88" y="277" width="1" height="14" fill="#0000ff"/>
<rect x="93" y="280" width="1" height="11" fill="#0000ff"/>
<rect x="99" y="283" width="1" height="8" fill="#0000ff"/>
<rect x="104" y="276" width="1" height="15" fill="#0000ff"/>
<rect x="109" y="278" width="1" height="13" fill="#0000ff"/>
<rect x="115" y="282" width="1" height="9" fill="#0000ff"/>
<rect x="120" y="281" width="1" height="10" fill="#0000ff"/>
<rect x="126" y="281" width="1" height="10" fill="#0000ff"/>
<rect x="131" y="283" width="1" height="8" fill="#0000ff"/>
<rect x="136" y="283" width="1" height="8" fill="#0000ff"/>
<rect x="142" y="282" width="1" height="9" fill="#0000ff"/>
<rect x="147" y="280" width="1" height="11" fill="#0000ff"/>
<rect x="152" y="286" width="1" height="5" fill="#0000ff"/>
<rect x="158" y="285" width="1" height="6" fill="#0000ff"/>
<rect x="163" y="285" width="1" height="6" fill="#0000ff"/>
<rect x="169" y="284" width="1" height="7" fill="#0000ff"/>
<rect x="174" y="284" width="1" height="7" fill="#0000ff"/>
<rect x="179" y="286" width="1" height="5" fill="#0000ff"/>
<rect x="185" y="286" width="1" height="5" fill="#0000ff"/>
<rect x="190" y="284" width="1" height="7" fill="#0000ff"/>
<rect x="196" y="285" width="1" height="6" fill="#0000ff"/>
<rect x="201" y="285" width="1" height="6" fill="#0000ff"/>
<rect x="206" y="286" width="1" height="5" fill="#0000ff"/>
<rect x="212" y="285" width="1" height="6" fill="#0000ff"/>
<rect x="217" y="280" width="1" height="11" fill="#0000ff"/>
<rect x="222" y="276" width="1" height="15" fill="#0000ff"/>
<rect x="228" y="281" width="1" height="10" fill="#0000ff"/>
<rect x="233" y="283" width="1" height="8" fill="#0000ff"/>
<rect x="239" y="283" width="1" height="8" fill="#0000ff"/>
<rect x="244" y="278" width="1" height="13" fill="#0000ff"/>
<rect x="249" y="279" width="1" height="12" fill="#0000ff"/>
<rect x="255" y="284" width="1" height="7" fill="#0000ff"/>
<rect x="260" y="277" width="1" height="14" fill="#0000ff"/>
<rect x="266" y="274" width="1" height="17" fill="#0000ff"/>
<rect x="271" y="257" width="1" height="34" fill="#0000ff"/>
<rect x="276" y="252" width="1" height="39" fill="#0000ff"/>
<rect x="282" y="251" width="1" height="40" fill="#0000ff"/>
<rect x="287" y="272" width="1" height="19" fill="#0000ff"/>
<rect x="293" y="284" width="1" height="7" fill="#0000ff"/>
<rect x="298" y="285" width="1" height="6" fill="#0000ff"/>
<rect x="303" y="285" width="1" height="6" fill="#0000ff"/>
<rect x="309" y="284" width="1" height="7" fill="#0000ff"/>
<rect x="314" y="286" width="1" height="5" fill="#0000ff"/>
<rect x="319" y="287" width="1" height="4" fill="#0000ff"/>
<rect x="325" y="284" width="1" height="7" fill="#0000ff"/>
<rect x="330" y="284" width="1" height="7" fill="#0000ff"/>
<rect x="336" y="289" width="1" height="2" fill="#0000ff"/>
<rect x="341" y="283" width="1" height="8" fill="#0000ff"/>
<rect x="346" y="286" width="1" height="5" fill="#0000ff"/>
<rect x="352" y="284" width="1" height="7" fill="#0000ff"/>
<rect x="357" y="284" width="1" height="7" fill="#0000ff"/>
<rect x="363" y="287" width="1" height="4" fill="#0000ff"/>
<rect x="368" y="285" width="1" height="6" fill="#0000ff"/>
<rect x="373" y="280" width="1" height="11" fill="#0000ff"/>
<rect x="379" y="282" width="1" height="9" fill="#0000ff"/>
<rect x="384" y="280" width="1" height="11" fill="#0000ff"/>
<rect x="390" y="281" width="1" height="10" fill="#0000ff"/>
<rect x="395" y="281" width="1" height="10" fill="#0000ff"/>
<rect x="400" y="282" width="1" height="9" fill="#0000ff"/>
<rect x="406" y="281" width="1" height="10" fill="#0000ff"/>
<rect x="411" y="283" width="1" height="8" fill="#0000ff"/>
<rect x="416" y="277" width="1" height="14" fill="#0000ff"/>
<rect x="422" y="284" width="1" height="7" fill="#0000ff"/>
<rect x="427" y="279" width="1" height="12" fill="#0000ff"/>
<rect x="433" y="281" width="1" height="10" fill="#0000ff"/>
<rect x="438" y="284" width="1" height="7" fill="#0000ff"/>
<rect x="443" y="280" width="1" height="11" fill="#0000ff"/>
<rect x="449" y="281" width="1" height="10" fill="#0000ff"/>
<rect x="454" y="278" width="1" height="13" fill="#0000ff"/>
<rect x="460" y="281" width="1" height="10" fill="#0000ff"/>
<rect x="465" y="286" width="1" height="5" fill="#0000ff"/>
<rect x="470" y="281" width="1" height="10" fill="#0000ff"/>
<rect x="476" y="282" width="1" height="9" fill="#0000ff"/>
<rect x="481" y="284" width="1" height="7" fill="#0000ff"/>
<rect x="487" y="284" width="1" height="7" fill="#0000ff"/>
<rect x="492" y="285" width="1" height="6" fill="#0000ff"/>
<rect x="497" y="284" width="1" height="7" fill="#0000ff"/>
<rect x="503" y="281" width="1" height="10" fill="#0000ff"/>
<rect x="508" y="284" width="1" height="7" fill="#0000ff"/>
<rect x="513" y="284" width="1" height="7" fill="#0000ff"/>
<rect x="519" y="282" width="1" height="9" fill="#0000ff"/>
<rect x="524" y="280" width="1" height="11" fill="#0000ff"/>
<rect x="530" y="280" width="1" height="11" fill="#0000ff"/>
<rect x="535" y="286" width="1" height="5" fill="#0000ff"/>
<rect x="540" y="281" width="1" height="10" fill="#0000ff"/>
<rect x="546" y="282" width="1" height="9" fill="#0000ff"/>
<rect x="551" y="281" width="1" height="10" fill="#0000ff"/>
<rect x="557" y="281" width="1" height="10" fill="#0000ff"/>
<rect x="562" y="283" width="1" height="8" fill="#0000ff"/>
<rect x="567" y="283" width="1" height="8" fill="#0000ff"/>
<rect x="573" y="281" width="1" height="10" fill="#0000ff"/>
<rect x="578" y="279" width="1" height="12" fill="#0000ff"/>
<rect x="584" y="282" width="1" height="9" fill="#0000ff"/>
<rect x="589" y="282" width="1" height="9" fill="#0000ff"/>
<rect x="594" y="273" width="1" height="18" fill="#0000ff"/>
<rect x="600" y="254" width="1" height="37" fill="#0000ff"/>
<rect x="605" y="247" width="1" height="44" fill="#0000ff"/>
<rect x="610" y="265" width="1" height="26" fill="#0000ff"/>
<rect x="616" y="268" width="1" height="23" fill="#0000ff"/>
<rect x="621" y="280" width="1" height="11" fill="#0000ff"/>
<rect x="627" y="284" width="1" height="7" fill="#0000ff"/>
<rect x="632" y="280" width="1" height="11" fill="#0000ff"/>
<rect x="637" y="278" width="1" height="13" fill="#0000ff"/>
<rect x="643" y="283" width="1" height="8" fill="#0000ff"/>
<rect x="648" y="279" width="1" height="12" fill="#0000ff"/>
<rect x="654" y="279" width="1" height="12" fill="#0000ff"/>
<rect x="659" y="278" width="1" height="13" fill="#0000ff"/>
<rect x="664" y="282" width="1" height="9" fill="#0000ff"/>
<rect x="670" y="285" width="1" height="6" fill="#0000ff"/>
<rect x="675" y="282" width="1" height="9" fill="#0000ff"/>
<rect x="681" y="278" width="1" height="13" fill="#0000ff"/>
<rect x="686" y="276" width="1" height="15" fill="#0000ff"/>
<rect x="691" y="283" width="1" height="8" fill="#0000ff"/>
<rect x="697" y="279" width="1" height="12" fill="#0000ff"/>
<rect x="702" y="281" width="1" height="10" fill="#0000ff"/>
<rect x="707" y="282" width="1" height="9" fill="#0000ff"/>
<rect x="713" y="281" width="1" height="10" fill="#0000ff"/>
<rect x="718" y="280" width="1" height="11" fill="#0000ff"/>
<path fill="#ff00ff" d="M612 247h5v1h-5zM610 248h2v1h-2zM616 248h1v1h-1zM609 249h1v1h-1zM617 249h1v1h-1zM608 250h1v1h-1zM617 250h1v1h-1zM608 251h1v1h-1zM617 251h1v1h-1zM607 252h1v1h-1zM617 252h1v1h-1zM606 253h1v1h-1zM618 253h1v1h-1zM605 254h1v1h-1zM618 254h1v1h-1zM605 255h1v1h-1zM618 255h1v1h-1zM604 256h1v1h-1zM618 256h1v1h-1zM604 257h1v1h-1zM618 257h1v1h-1zM603 258h1v1h-1zM619 258h1v1h-1zM603 259h1v1h-1zM619 259h1v1h-1zM276 260h1v1h-1zM603 260h1v1h-1zM619 260h1v1h-1zM276 261h3v1h-3zM602 261h1v1h-1zM619 261h1v1h-1zM275 262h1v1h-1zM279 262h1v1h-1zM602 262h1v1h-1zM619 262h1v1h-1zM275 263h1v1h-1zM280 263h2v1h-2zM601 263h1v1h-1zM619 263h1v1h-1zM274 264h1v1h-1zM282 264h2v1h-2zM601 264h1v1h-1zM620 264h1v1h-1zM274 265h1v1h-1zM284 265h2v1h-2zM600 265h1v1h-1zM620 265h1v1h-1zM274 266h1v1h-1zM286 266h2v1h-2zM600 266h1v1h-1zM620 266h1v1h-1zM706 266h5v1h-5zM273 267h1v1h-1zM288 267h1v1h-1zM599 267h1v1h-1zM620 267h1v1h-1zM704 267h2v1h-2zM711 267h8v1h-8zM273 268h1v1h-1zM288 268h1v1h-1zM598 268h1v1h-1zM620 268h1v1h-1zM694 268h10v1h-10zM273 269h1v1h-1zM289 269h1v1h-1zM597 269h1v1h-1zM620 269h1v1h-1zM681 269h13v1h-13zM272 270h1v1h-1zM289 270h1v1h-1zM596 270h1v1h-1zM620 270h1v1h-1zM679 270h2v1h-2zM265 271h5v1h-5zM272 271h1v1h-1zM289 271h1v1h-1zM595 271h1v1h-1zM621 271h1v1h-1zM662 271h6v1h-6zM674 271h5v1h-5zM262 272h3v1h-3zM270 272h2v1h-2zM289 272h1v1h-1zM593 272h2v1h-2zM621 272h1v1h-1zM642 272h5v1h-5zM659 272h3v1h-3zM668 272h6v1h-6zM258 273h4v1h-4zM271 273h1v1h-1zM290 273h1v1h-1zM554 273h6v1h-6zM570 273h11v1h-11zM587 273h6v1h-6zM621 273h1v1h-1zM639 273h3v1h-3zM647 273h3v1h-3zM657 273h2v1h-2zM254 274h4v1h-4zM290 274h1v1h-1zM543 274h11v1h-11zM560 274h10v1h-10zM581 274h6v1h-6zM621 274h18v1h-18zM650 274h3v1h-3zM655 274h2v1h-2zM252 275h2v1h-2zM290 275h1v1h-1zM527 275h16v1h-16zM653 275h2v1h-2zM250 276h2v1h-2zM290 276h1v1h-1zM491 276h4v1h-4zM516 276h11v1h-11zM249 277h1v1h-1zM290 277h1v1h-1zM480 277h11v1h-11zM495 277h11v1h-11zM511 277h5v1h-5zM248 278h1v1h-1zM291 278h1v1h-1zM479 278h1v1h-1zM506 278h5v1h-5zM246 279h2v1h-2zM291 279h1v1h-1zM468 279h11v1h-11zM245 280h1v1h-1zM291 280h1v1h-1zM457 280h11v1h-11zM244 281h1v1h-1zM291 281h1v1h-1zM415 281h3v1h-3zM437 281h20v1h-20zM242 282h2v1h-2zM291 282h1v1h-1zM403 282h6v1h-6zM413 282h2v1h-2zM418 282h3v1h-3zM435 282h2v1h-2zM240 283h2v1h-2zM291 283h1v1h-1zM398 283h5v1h-5zM409 283h4v1h-4zM421 283h4v1h-4zM430 283h5v1h-5zM238 284h2v1h-2zM292 284h1v1h-1zM393 284h5v1h-5zM425 284h5v1h-5zM235 285h3v1h-3zM292 285h1v1h-1zM389 285h4v1h-4zM215 286h10v1h-10zM231 286h4v1h-4zM292 286h1v1h-1zM317 286h4v1h-4zM386 286h3v1h-3zM209 287h6v1h-6zM225 287h6v1h-6zM292 287h1v1h-1zM312 287h5v1h-5zM321 287h3v1h-3zM328 287h5v1h-5zM349 287h6v1h-6zM371 287h5v1h-5zM382 287h4v1h-4zM61 288h2v1h-2zM144 288h7v1h-7zM173 288h21v1h-21zM204 288h5v1h-5zM292 288h1v1h-1zM308 288h4v1h-4zM324 288h4v1h-4zM333 288h6v1h-6zM344 288h5v1h-5zM355 288h16v1h-16zM376 288h6v1h-6zM63 289h2v1h-2zM80 289h22v1h-22zM141 289h3v1h-3zM151 289h1v1h-1zM171 289h2v1h-2zM194 289h10v1h-10zM293 289h1v1h-1zM306 289h2v1h-2zM339 289h5v1h-5zM65 290h4v1h-4zM75 290h5v1h-5zM102 290h4v1h-4zM119 290h22v1h-22zM151 290h20v1h-20zM293 290h1v1h-1zM296 290h5v1h-5zM304 290h2v1h-2zM69 291h6v1h-6zM106 291h13v1h-13zM293 291h3v1h-3zM301 291h3v1h-3z"/>
<rect x="47.5" y="231.5" width="692" height="61" fill="none" stroke="#000" stroke-width="1"/>
<text y="244"><tspan x="51.62" letter-spacing="0.107">Otwarte</tspan><tspan x="94.56" letter-spacing="0.061">Pozycje,</tspan><tspan x="139.75" letter-spacing="-0.745">VOL</tspan><tspan x="163.65">-</tspan><tspan x="171.35" letter-spacing="-0.232">Volume</tspan><tspan x="209.40" letter-spacing="0.084">[16</tspan><tspan x="228.31" letter-spacing="-0.135">454]</tspan></text>
<rect x="45" y="257" width="2" height="1" fill="#000"/>
<text x="41.6" y="262" text-anchor="end" xml:space="preserve">80 000</text>
<rect x="45" y="285" width="2" height="1" fill="#000"/>
<text x="41.6" y="290" text-anchor="end" xml:space="preserve">60 000</text>
<rect x="740" y="277" width="3" height="1" fill="#000"/>
<text x="746.3" y="282" text-anchor="start" xml:space="preserve" letter-spacing="-0.08">20 000</text>
<rect x="66" y="295" width="1" height="60" fill="#dcdcdc"/>
<rect x="142" y="295" width="1" height="60" fill="#dcdcdc"/>
<rect x="217" y="295" width="1" height="60" fill="#dcdcdc"/>
<rect x="293" y="295" width="1" height="60" fill="#dcdcdc"/>
<rect x="357" y="295" width="1" height="60" fill="#dcdcdc"/>
<rect x="433" y="295" width="1" height="60" fill="#dcdcdc"/>
<rect x="503" y="295" width="1" height="60" fill="#dcdcdc"/>
<rect x="573" y="295" width="1" height="60" fill="#dcdcdc"/>
<rect x="648" y="295" width="1" height="60" fill="#dcdcdc"/>
<rect x="48" y="332" width="691" height="1" fill="#dcdcdc"/>
<rect x="48" y="295" width="264" height="16" fill="#fff"/>
<path fill="#228b22" d="M430 313h16v1h-16zM418 314h12v1h-12zM446 314h17v1h-17zM412 315h6v1h-6zM463 315h16v1h-16zM409 316h3v1h-3zM479 316h5v1h-5zM401 317h8v1h-8zM484 317h11v1h-11zM398 318h3v1h-3zM495 318h5v1h-5zM396 319h2v1h-2zM500 319h6v1h-6zM394 320h2v1h-2zM506 320h5v1h-5zM387 321h7v1h-7zM511 321h6v1h-6zM384 322h3v1h-3zM517 322h3v1h-3zM378 323h6v1h-6zM520 323h4v1h-4zM371 324h7v1h-7zM524 324h4v1h-4zM360 325h11v1h-11zM528 325h3v1h-3zM355 326h5v1h-5zM531 326h2v1h-2zM349 327h6v1h-6zM533 327h3v1h-3zM339 328h10v1h-10zM536 328h4v1h-4zM189 329h37v1h-37zM317 329h22v1h-22zM540 329h4v1h-4zM173 330h16v1h-16zM226 330h16v1h-16zM306 330h11v1h-11zM544 330h4v1h-4zM160 331h13v1h-13zM242 331h11v1h-11zM301 331h5v1h-5zM548 331h3v1h-3zM151 332h9v1h-9zM253 332h10v1h-10zM292 332h9v1h-9zM551 332h2v1h-2zM140 333h11v1h-11zM263 333h6v1h-6zM285 333h7v1h-7zM553 333h3v1h-3zM129 334h11v1h-11zM269 334h16v1h-16zM556 334h3v1h-3zM123 335h6v1h-6zM559 335h2v1h-2zM118 336h5v1h-5zM561 336h2v1h-2zM112 337h6v1h-6zM563 337h2v1h-2zM107 338h5v1h-5zM565 338h3v1h-3zM102 339h5v1h-5zM568 339h4v1h-4zM96 340h6v1h-6zM572 340h3v1h-3zM91 341h5v1h-5zM575 341h2v1h-2zM85 342h6v1h-6zM577 342h3v1h-3zM80 343h5v1h-5zM580 343h4v1h-4zM69 344h11v1h-11zM584 344h4v1h-4zM61 345h8v1h-8zM588 345h4v1h-4zM592 346h4v1h-4zM596 347h4v1h-4zM641 347h32v1h-32zM600 348h14v1h-14zM636 348h5v1h-5zM673 348h11v1h-11zM614 349h6v1h-6zM625 349h11v1h-11zM684 349h5v1h-5zM620 350h5v1h-5zM689 350h6v1h-6zM714 350h5v1h-5zM695 351h19v1h-19z"/>
<rect x="61" y="332" width="658" height="1" fill="#969696"/>
<rect x="61" y="333" width="1" height="1" fill="#969696"/>
<rect x="66" y="332" width="1" height="0" fill="#969696"/>
<rect x="72" y="330" width="1" height="2" fill="#969696"/>
<rect x="77" y="329" width="1" height="3" fill="#969696"/>
<rect x="82" y="329" width="1" height="3" fill="#969696"/>
<rect x="88" y="329" width="1" height="3" fill="#969696"/>
<rect x="93" y="328" width="1" height="4" fill="#969696"/>
<rect x="99" y="327" width="1" height="5" fill="#969696"/>
<rect x="104" y="328" width="1" height="4" fill="#969696"/>
<rect x="109" y="328" width="1" height="4" fill="#969696"/>
<rect x="115" y="328" width="1" height="4" fill="#969696"/>
<rect x="120" y="328" width="1" height="4" fill="#969696"/>
<rect x="126" y="329" width="1" height="3" fill="#969696"/>
<rect x="131" y="329" width="1" height="3" fill="#969696"/>
<rect x="136" y="329" width="1" height="3" fill="#969696"/>
<rect x="142" y="330" width="1" height="2" fill="#969696"/>
<rect x="147" y="330" width="1" height="2" fill="#969696"/>
<rect x="152" y="330" width="1" height="2" fill="#969696"/>
<rect x="158" y="331" width="1" height="1" fill="#969696"/>
<rect x="163" y="331" width="1" height="1" fill="#969696"/>
<rect x="169" y="331" width="1" height="1" fill="#969696"/>
<rect x="174" y="331" width="1" height="1" fill="#969696"/>
<rect x="179" y="331" width="1" height="1" fill="#969696"/>
<rect x="185" y="331" width="1" height="1" fill="#969696"/>
<rect x="190" y="331" width="1" height="1" fill="#969696"/>
<rect x="196" y="331" width="1" height="1" fill="#969696"/>
<rect x="212" y="333" width="1" height="1" fill="#969696"/>
<rect x="217" y="333" width="1" height="1" fill="#969696"/>
<rect x="222" y="333" width="1" height="1" fill="#969696"/>
<rect x="228" y="333" width="1" height="1" fill="#969696"/>
<rect x="233" y="333" width="1" height="1" fill="#969696"/>
<rect x="239" y="333" width="1" height="1" fill="#969696"/>
<rect x="244" y="333" width="1" height="1" fill="#969696"/>
<rect x="249" y="333" width="1" height="1" fill="#969696"/>
<rect x="255" y="333" width="1" height="1" fill="#969696"/>
<rect x="260" y="333" width="1" height="1" fill="#969696"/>
<rect x="266" y="333" width="1" height="1" fill="#969696"/>
<rect x="271" y="333" width="1" height="1" fill="#969696"/>
<rect x="282" y="331" width="1" height="1" fill="#969696"/>
<rect x="287" y="331" width="1" height="1" fill="#969696"/>
<rect x="293" y="330" width="1" height="2" fill="#969696"/>
<rect x="298" y="329" width="1" height="3" fill="#969696"/>
<rect x="303" y="329" width="1" height="3" fill="#969696"/>
<rect x="309" y="330" width="1" height="2" fill="#969696"/>
<rect x="314" y="330" width="1" height="2" fill="#969696"/>
<rect x="319" y="331" width="1" height="1" fill="#969696"/>
<rect x="325" y="331" width="1" height="1" fill="#969696"/>
<rect x="330" y="331" width="1" height="1" fill="#969696"/>
<rect x="336" y="331" width="1" height="1" fill="#969696"/>
<rect x="341" y="330" width="1" height="2" fill="#969696"/>
<rect x="346" y="330" width="1" height="2" fill="#969696"/>
<rect x="352" y="329" width="1" height="3" fill="#969696"/>
<rect x="357" y="329" width="1" height="3" fill="#969696"/>
<rect x="363" y="329" width="1" height="3" fill="#969696"/>
<rect x="368" y="330" width="1" height="2" fill="#969696"/>
<rect x="373" y="329" width="1" height="3" fill="#969696"/>
<rect x="379" y="327" width="1" height="5" fill="#969696"/>
<rect x="384" y="328" width="1" height="4" fill="#969696"/>
<rect x="390" y="327" width="1" height="5" fill="#969696"/>
<rect x="395" y="327" width="1" height="5" fill="#969696"/>
<rect x="400" y="327" width="1" height="5" fill="#969696"/>
<rect x="406" y="327" width="1" height="5" fill="#969696"/>
<rect x="411" y="328" width="1" height="4" fill="#969696"/>
<rect x="416" y="328" width="1" height="4" fill="#969696"/>
<rect x="422" y="328" width="1" height="4" fill="#969696"/>
<rect x="427" y="330" width="1" height="2" fill="#969696"/>
<rect x="433" y="331" width="1" height="1" fill="#969696"/>
<rect x="438" y="331" width="1" height="1" fill="#969696"/>
<rect x="454" y="333" width="1" height="1" fill="#969696"/>
<rect x="476" y="333" width="1" height="1" fill="#969696"/>
<rect x="481" y="333" width="1" height="1" fill="#969696"/>
<rect x="487" y="333" width="1" height="1" fill="#969696"/>
<rect x="492" y="333" width="1" height="1" fill="#969696"/>
<rect x="497" y="333" width="1" height="1" fill="#969696"/>
<rect x="503" y="333" width="1" height="1" fill="#969696"/>
<rect x="508" y="333" width="1" height="1" fill="#969696"/>
<rect x="513" y="333" width="1" height="1" fill="#969696"/>
<rect x="519" y="333" width="1" height="4" fill="#969696"/>
<rect x="524" y="333" width="1" height="5" fill="#969696"/>
<rect x="530" y="333" width="1" height="5" fill="#969696"/>
<rect x="535" y="333" width="1" height="6" fill="#969696"/>
<rect x="540" y="333" width="1" height="6" fill="#969696"/>
<rect x="546" y="333" width="1" height="6" fill="#969696"/>
<rect x="551" y="333" width="1" height="6" fill="#969696"/>
<rect x="557" y="333" width="1" height="7" fill="#969696"/>
<rect x="562" y="333" width="1" height="8" fill="#969696"/>
<rect x="567" y="333" width="1" height="8" fill="#969696"/>
<rect x="573" y="333" width="1" height="7" fill="#969696"/>
<rect x="578" y="333" width="1" height="6" fill="#969696"/>
<rect x="584" y="333" width="1" height="5" fill="#969696"/>
<rect x="589" y="333" width="1" height="4" fill="#969696"/>
<rect x="594" y="333" width="1" height="3" fill="#969696"/>
<rect x="600" y="333" width="1" height="2" fill="#969696"/>
<rect x="605" y="333" width="1" height="2" fill="#969696"/>
<rect x="610" y="333" width="1" height="1" fill="#969696"/>
<rect x="616" y="333" width="1" height="1" fill="#969696"/>
<rect x="627" y="331" width="1" height="1" fill="#969696"/>
<rect x="632" y="330" width="1" height="2" fill="#969696"/>
<rect x="637" y="329" width="1" height="3" fill="#969696"/>
<rect x="643" y="329" width="1" height="3" fill="#969696"/>
<rect x="648" y="331" width="1" height="1" fill="#969696"/>
<rect x="654" y="331" width="1" height="1" fill="#969696"/>
<rect x="670" y="333" width="1" height="1" fill="#969696"/>
<rect x="675" y="333" width="1" height="1" fill="#969696"/>
<rect x="681" y="333" width="1" height="3" fill="#969696"/>
<rect x="686" y="333" width="1" height="3" fill="#969696"/>
<rect x="691" y="333" width="1" height="1" fill="#969696"/>
<rect x="697" y="333" width="1" height="1" fill="#969696"/>
<rect x="713" y="331" width="1" height="1" fill="#969696"/>
<rect x="718" y="329" width="1" height="3" fill="#969696"/>
<path fill="#ff0000" d="M418 310h7v1h-7zM413 311h5v1h-5zM425 311h5v1h-5zM410 312h3v1h-3zM430 312h7v1h-7zM399 313h11v1h-11zM437 313h5v1h-5zM396 314h3v1h-3zM442 314h5v1h-5zM393 315h3v1h-3zM447 315h5v1h-5zM390 316h3v1h-3zM452 316h21v1h-21zM387 317h3v1h-3zM473 317h5v1h-5zM377 318h10v1h-10zM478 318h2v1h-2zM375 319h2v1h-2zM480 319h4v1h-4zM373 320h2v1h-2zM484 320h11v1h-11zM372 321h1v1h-1zM495 321h5v1h-5zM370 322h2v1h-2zM500 322h6v1h-6zM355 323h15v1h-15zM506 323h5v1h-5zM346 324h9v1h-9zM511 324h4v1h-4zM342 325h4v1h-4zM515 325h1v1h-1zM340 326h2v1h-2zM516 326h1v1h-1zM338 327h2v1h-2zM517 327h2v1h-2zM188 328h26v1h-26zM294 328h44v1h-44zM519 328h3v1h-3zM162 329h26v1h-26zM214 329h6v1h-6zM290 329h4v1h-4zM522 329h3v1h-3zM156 330h6v1h-6zM220 330h2v1h-2zM288 330h2v1h-2zM525 330h4v1h-4zM123 331h33v1h-33zM222 331h20v1h-20zM287 331h1v1h-1zM529 331h4v1h-4zM118 332h5v1h-5zM242 332h1v1h-1zM285 332h2v1h-2zM533 332h2v1h-2zM112 333h6v1h-6zM243 333h9v1h-9zM280 333h5v1h-5zM535 333h2v1h-2zM102 334h10v1h-10zM252 334h7v1h-7zM274 334h6v1h-6zM537 334h2v1h-2zM98 335h4v1h-4zM259 335h5v1h-5zM269 335h5v1h-5zM539 335h3v1h-3zM95 336h3v1h-3zM264 336h5v1h-5zM542 336h4v1h-4zM92 337h3v1h-3zM546 337h2v1h-2zM90 338h2v1h-2zM548 338h2v1h-2zM85 339h5v1h-5zM550 339h2v1h-2zM80 340h5v1h-5zM552 340h3v1h-3zM75 341h5v1h-5zM555 341h2v1h-2zM71 342h4v1h-4zM557 342h2v1h-2zM68 343h3v1h-3zM559 343h2v1h-2zM66 344h2v1h-2zM561 344h2v1h-2zM64 345h2v1h-2zM563 345h2v1h-2zM639 345h7v1h-7zM62 346h2v1h-2zM565 346h1v1h-1zM636 346h3v1h-3zM646 346h3v1h-3zM61 347h1v1h-1zM566 347h2v1h-2zM632 347h4v1h-4zM649 347h14v1h-14zM717 347h2v1h-2zM568 348h2v1h-2zM628 348h4v1h-4zM663 348h10v1h-10zM715 348h2v1h-2zM570 349h17v1h-17zM625 349h3v1h-3zM673 349h5v1h-5zM713 349h2v1h-2zM587 350h16v1h-16zM623 350h2v1h-2zM678 350h4v1h-4zM711 350h2v1h-2zM603 351h1v1h-1zM619 351h4v1h-4zM682 351h2v1h-2zM702 351h9v1h-9zM604 352h15v1h-15zM684 352h2v1h-2zM700 352h2v1h-2zM686 353h3v1h-3zM697 353h3v1h-3zM689 354h8v1h-8z"/>
<rect x="47.5" y="294.5" width="692" height="61" fill="none" stroke="#000" stroke-width="1"/>
<text y="307"><tspan x="51.35" letter-spacing="-0.572">MACD</tspan><tspan x="84.85">-</tspan><tspan x="91.55" letter-spacing="-0.158">Moving</tspan><tspan x="129.40" letter-spacing="-0.148">Average</tspan><tspan x="172.80" letter-spacing="0.148">Conv.</tspan><tspan x="204.02" letter-spacing="0.123">Div.</tspan><tspan x="225.28" letter-spacing="-0.030">(12,26,9)</tspan><tspan x="272.70" letter-spacing="0.045">[-28,47]</tspan></text>
<rect x="740" y="332" width="3" height="1" fill="#000"/>
<text x="746.3" y="337" text-anchor="start" xml:space="preserve" letter-spacing="-0.08">0</text>
<rect x="66" y="358" width="1" height="60" fill="#dcdcdc"/>
<rect x="142" y="358" width="1" height="60" fill="#dcdcdc"/>
<rect x="217" y="358" width="1" height="60" fill="#dcdcdc"/>
<rect x="293" y="358" width="1" height="60" fill="#dcdcdc"/>
<rect x="357" y="358" width="1" height="60" fill="#dcdcdc"/>
<rect x="433" y="358" width="1" height="60" fill="#dcdcdc"/>
<rect x="503" y="358" width="1" height="60" fill="#dcdcdc"/>
<rect x="573" y="358" width="1" height="60" fill="#dcdcdc"/>
<rect x="648" y="358" width="1" height="60" fill="#dcdcdc"/>
<rect x="48" y="394" width="691" height="1" fill="#dcdcdc"/>
<rect x="48" y="358" width="164" height="16" fill="#fff"/>
<path fill="#228b22" d="M419 375h7v1h-7zM354 376h11v1h-11zM379 376h17v1h-17zM398 376h21v1h-21zM426 376h3v1h-3zM352 377h2v1h-2zM365 377h14v1h-14zM396 377h2v1h-2zM429 377h3v1h-3zM348 378h4v1h-4zM432 378h3v1h-3zM128 379h12v1h-12zM301 379h9v1h-9zM342 379h6v1h-6zM435 379h2v1h-2zM125 380h3v1h-3zM140 380h2v1h-2zM167 380h6v1h-6zM300 380h1v1h-1zM310 380h3v1h-3zM339 380h3v1h-3zM437 380h2v1h-2zM123 381h2v1h-2zM142 381h2v1h-2zM165 381h2v1h-2zM173 381h2v1h-2zM298 381h2v1h-2zM313 381h3v1h-3zM324 381h15v1h-15zM439 381h2v1h-2zM121 382h2v1h-2zM144 382h2v1h-2zM162 382h3v1h-3zM175 382h2v1h-2zM296 382h2v1h-2zM316 382h8v1h-8zM441 382h5v1h-5zM119 383h2v1h-2zM146 383h3v1h-3zM158 383h4v1h-4zM177 383h2v1h-2zM294 383h2v1h-2zM446 383h5v1h-5zM117 384h2v1h-2zM149 384h3v1h-3zM155 384h3v1h-3zM179 384h2v1h-2zM189 384h10v1h-10zM208 384h6v1h-6zM293 384h1v1h-1zM451 384h2v1h-2zM468 384h8v1h-8zM112 385h5v1h-5zM152 385h3v1h-3zM181 385h8v1h-8zM199 385h9v1h-9zM214 385h1v1h-1zM292 385h1v1h-1zM453 385h15v1h-15zM476 385h3v1h-3zM108 386h4v1h-4zM215 386h1v1h-1zM291 386h1v1h-1zM479 386h2v1h-2zM106 387h2v1h-2zM216 387h2v1h-2zM290 387h1v1h-1zM481 387h2v1h-2zM102 388h4v1h-4zM218 388h1v1h-1zM289 388h1v1h-1zM483 388h1v1h-1zM98 389h4v1h-4zM219 389h2v1h-2zM288 389h1v1h-1zM484 389h2v1h-2zM96 390h2v1h-2zM221 390h1v1h-1zM287 390h1v1h-1zM486 390h2v1h-2zM94 391h2v1h-2zM222 391h2v1h-2zM286 391h1v1h-1zM488 391h2v1h-2zM92 392h2v1h-2zM224 392h2v1h-2zM232 392h8v1h-8zM285 392h1v1h-1zM490 392h2v1h-2zM85 393h7v1h-7zM226 393h2v1h-2zM230 393h2v1h-2zM240 393h2v1h-2zM284 393h1v1h-1zM492 393h4v1h-4zM646 393h7v1h-7zM81 394h4v1h-4zM228 394h2v1h-2zM242 394h2v1h-2zM283 394h1v1h-1zM496 394h10v1h-10zM643 394h3v1h-3zM653 394h2v1h-2zM79 395h2v1h-2zM244 395h1v1h-1zM282 395h1v1h-1zM506 395h8v1h-8zM641 395h2v1h-2zM655 395h2v1h-2zM77 396h2v1h-2zM245 396h2v1h-2zM281 396h1v1h-1zM514 396h2v1h-2zM639 396h2v1h-2zM657 396h3v1h-3zM75 397h2v1h-2zM247 397h2v1h-2zM280 397h1v1h-1zM516 397h2v1h-2zM638 397h1v1h-1zM660 397h3v1h-3zM73 398h2v1h-2zM249 398h2v1h-2zM278 398h2v1h-2zM518 398h1v1h-1zM637 398h1v1h-1zM663 398h3v1h-3zM72 399h1v1h-1zM251 399h2v1h-2zM277 399h1v1h-1zM519 399h2v1h-2zM636 399h1v1h-1zM666 399h3v1h-3zM70 400h2v1h-2zM253 400h2v1h-2zM276 400h1v1h-1zM521 400h2v1h-2zM635 400h1v1h-1zM669 400h2v1h-2zM69 401h1v1h-1zM255 401h2v1h-2zM275 401h1v1h-1zM523 401h1v1h-1zM634 401h1v1h-1zM671 401h2v1h-2zM67 402h2v1h-2zM257 402h2v1h-2zM274 402h1v1h-1zM524 402h1v1h-1zM633 402h1v1h-1zM673 402h2v1h-2zM717 402h2v1h-2zM64 403h3v1h-3zM259 403h3v1h-3zM272 403h2v1h-2zM525 403h1v1h-1zM632 403h1v1h-1zM675 403h2v1h-2zM715 403h2v1h-2zM61 404h3v1h-3zM262 404h4v1h-4zM270 404h2v1h-2zM526 404h2v1h-2zM630 404h2v1h-2zM677 404h3v1h-3zM708 404h7v1h-7zM266 405h4v1h-4zM528 405h2v1h-2zM629 405h1v1h-1zM680 405h3v1h-3zM706 405h2v1h-2zM530 406h2v1h-2zM628 406h1v1h-1zM683 406h2v1h-2zM704 406h2v1h-2zM532 407h3v1h-3zM627 407h1v1h-1zM685 407h2v1h-2zM702 407h2v1h-2zM535 408h2v1h-2zM623 408h4v1h-4zM687 408h2v1h-2zM699 408h3v1h-3zM537 409h3v1h-3zM621 409h2v1h-2zM689 409h2v1h-2zM696 409h3v1h-3zM540 410h3v1h-3zM620 410h1v1h-1zM691 410h5v1h-5zM543 411h3v1h-3zM599 411h4v1h-4zM618 411h2v1h-2zM546 412h3v1h-3zM587 412h12v1h-12zM603 412h15v1h-15zM549 413h7v1h-7zM585 413h2v1h-2zM556 414h5v1h-5zM580 414h5v1h-5zM561 415h9v1h-9zM578 415h2v1h-2zM570 416h8v1h-8z"/>
<rect x="60" y="380" width="659" height="1" fill="#969696"/>
<rect x="60" y="408" width="659" height="1" fill="#969696"/>
<path fill="#ff0000" d="M296 373h6v1h-6zM351 373h4v1h-4zM294 374h2v1h-2zM302 374h2v1h-2zM349 374h2v1h-2zM355 374h1v1h-1zM293 375h1v1h-1zM304 375h1v1h-1zM347 375h2v1h-2zM356 375h5v1h-5zM378 375h9v1h-9zM400 375h3v1h-3zM409 375h15v1h-15zM125 376h8v1h-8zM291 376h2v1h-2zM305 376h1v1h-1zM345 376h2v1h-2zM361 376h4v1h-4zM376 376h2v1h-2zM387 376h5v1h-5zM398 376h2v1h-2zM403 376h6v1h-6zM424 376h1v1h-1zM122 377h3v1h-3zM133 377h2v1h-2zM163 377h5v1h-5zM290 377h1v1h-1zM306 377h2v1h-2zM341 377h4v1h-4zM365 377h1v1h-1zM373 377h3v1h-3zM392 377h2v1h-2zM396 377h2v1h-2zM425 377h1v1h-1zM119 378h3v1h-3zM135 378h2v1h-2zM162 378h1v1h-1zM168 378h2v1h-2zM289 378h1v1h-1zM308 378h2v1h-2zM339 378h2v1h-2zM366 378h1v1h-1zM371 378h2v1h-2zM394 378h2v1h-2zM426 378h2v1h-2zM118 379h1v1h-1zM137 379h1v1h-1zM161 379h1v1h-1zM170 379h1v1h-1zM288 379h1v1h-1zM310 379h1v1h-1zM337 379h2v1h-2zM367 379h2v1h-2zM370 379h1v1h-1zM428 379h2v1h-2zM117 380h1v1h-1zM138 380h1v1h-1zM160 380h1v1h-1zM171 380h1v1h-1zM287 380h1v1h-1zM310 380h1v1h-1zM329 380h8v1h-8zM369 380h1v1h-1zM430 380h2v1h-2zM116 381h1v1h-1zM139 381h1v1h-1zM159 381h1v1h-1zM172 381h2v1h-2zM286 381h1v1h-1zM311 381h1v1h-1zM328 381h1v1h-1zM432 381h2v1h-2zM114 382h2v1h-2zM140 382h1v1h-1zM158 382h1v1h-1zM174 382h1v1h-1zM286 382h1v1h-1zM312 382h2v1h-2zM324 382h4v1h-4zM434 382h2v1h-2zM469 382h2v1h-2zM102 383h12v1h-12zM141 383h1v1h-1zM157 383h1v1h-1zM175 383h1v1h-1zM211 383h3v1h-3zM285 383h1v1h-1zM314 383h3v1h-3zM321 383h3v1h-3zM436 383h3v1h-3zM466 383h3v1h-3zM471 383h2v1h-2zM99 384h3v1h-3zM142 384h1v1h-1zM157 384h1v1h-1zM176 384h1v1h-1zM189 384h11v1h-11zM208 384h3v1h-3zM214 384h1v1h-1zM284 384h1v1h-1zM317 384h4v1h-4zM439 384h3v1h-3zM464 384h2v1h-2zM473 384h2v1h-2zM97 385h2v1h-2zM143 385h1v1h-1zM156 385h1v1h-1zM177 385h1v1h-1zM188 385h1v1h-1zM200 385h8v1h-8zM214 385h1v1h-1zM284 385h1v1h-1zM442 385h5v1h-5zM459 385h5v1h-5zM475 385h2v1h-2zM96 386h1v1h-1zM144 386h1v1h-1zM156 386h1v1h-1zM178 386h1v1h-1zM186 386h2v1h-2zM215 386h1v1h-1zM283 386h1v1h-1zM447 386h5v1h-5zM457 386h2v1h-2zM477 386h1v1h-1zM642 386h2v1h-2zM94 387h2v1h-2zM145 387h2v1h-2zM155 387h1v1h-1zM179 387h1v1h-1zM182 387h4v1h-4zM215 387h1v1h-1zM282 387h1v1h-1zM452 387h2v1h-2zM455 387h2v1h-2zM477 387h1v1h-1zM639 387h3v1h-3zM644 387h1v1h-1zM93 388h1v1h-1zM147 388h2v1h-2zM153 388h2v1h-2zM180 388h2v1h-2zM216 388h1v1h-1zM281 388h1v1h-1zM454 388h1v1h-1zM478 388h1v1h-1zM637 388h2v1h-2zM645 388h2v1h-2zM75 389h6v1h-6zM92 389h1v1h-1zM149 389h4v1h-4zM216 389h1v1h-1zM234 389h3v1h-3zM281 389h1v1h-1zM479 389h1v1h-1zM636 389h1v1h-1zM647 389h2v1h-2zM73 390h2v1h-2zM81 390h1v1h-1zM91 390h1v1h-1zM217 390h1v1h-1zM233 390h1v1h-1zM237 390h3v1h-3zM280 390h1v1h-1zM480 390h1v1h-1zM636 390h1v1h-1zM649 390h1v1h-1zM72 391h1v1h-1zM82 391h2v1h-2zM89 391h2v1h-2zM217 391h1v1h-1zM232 391h1v1h-1zM240 391h1v1h-1zM279 391h1v1h-1zM481 391h1v1h-1zM635 391h1v1h-1zM649 391h1v1h-1zM71 392h1v1h-1zM84 392h5v1h-5zM218 392h1v1h-1zM232 392h1v1h-1zM240 392h1v1h-1zM278 392h1v1h-1zM482 392h2v1h-2zM635 392h1v1h-1zM650 392h1v1h-1zM71 393h1v1h-1zM218 393h1v1h-1zM231 393h1v1h-1zM241 393h1v1h-1zM278 393h1v1h-1zM484 393h1v1h-1zM634 393h1v1h-1zM651 393h1v1h-1zM70 394h1v1h-1zM219 394h1v1h-1zM231 394h1v1h-1zM242 394h1v1h-1zM277 394h1v1h-1zM485 394h1v1h-1zM505 394h4v1h-4zM633 394h1v1h-1zM652 394h1v1h-1zM69 395h1v1h-1zM219 395h1v1h-1zM230 395h1v1h-1zM242 395h1v1h-1zM276 395h1v1h-1zM486 395h1v1h-1zM502 395h3v1h-3zM509 395h3v1h-3zM633 395h1v1h-1zM653 395h1v1h-1zM68 396h1v1h-1zM220 396h1v1h-1zM229 396h1v1h-1zM243 396h1v1h-1zM275 396h1v1h-1zM486 396h1v1h-1zM499 396h3v1h-3zM512 396h2v1h-2zM632 396h1v1h-1zM653 396h1v1h-1zM68 397h1v1h-1zM221 397h1v1h-1zM229 397h1v1h-1zM243 397h1v1h-1zM275 397h1v1h-1zM487 397h1v1h-1zM497 397h2v1h-2zM514 397h1v1h-1zM631 397h1v1h-1zM654 397h1v1h-1zM67 398h1v1h-1zM221 398h1v1h-1zM227 398h2v1h-2zM244 398h1v1h-1zM274 398h1v1h-1zM488 398h3v1h-3zM495 398h2v1h-2zM514 398h1v1h-1zM631 398h1v1h-1zM655 398h1v1h-1zM718 398h1v1h-1zM66 399h1v1h-1zM222 399h1v1h-1zM225 399h2v1h-2zM244 399h1v1h-1zM274 399h1v1h-1zM491 399h4v1h-4zM515 399h1v1h-1zM630 399h1v1h-1zM656 399h2v1h-2zM717 399h1v1h-1zM65 400h1v1h-1zM223 400h2v1h-2zM245 400h1v1h-1zM273 400h1v1h-1zM516 400h1v1h-1zM629 400h1v1h-1zM658 400h3v1h-3zM716 400h1v1h-1zM65 401h1v1h-1zM245 401h1v1h-1zM273 401h1v1h-1zM517 401h1v1h-1zM628 401h1v1h-1zM661 401h2v1h-2zM707 401h4v1h-4zM715 401h1v1h-1zM64 402h1v1h-1zM246 402h2v1h-2zM272 402h1v1h-1zM518 402h1v1h-1zM628 402h1v1h-1zM663 402h2v1h-2zM705 402h2v1h-2zM711 402h2v1h-2zM715 402h1v1h-1zM63 403h1v1h-1zM248 403h1v1h-1zM272 403h1v1h-1zM519 403h1v1h-1zM625 403h3v1h-3zM665 403h2v1h-2zM703 403h2v1h-2zM713 403h2v1h-2zM63 404h1v1h-1zM249 404h2v1h-2zM271 404h1v1h-1zM520 404h1v1h-1zM624 404h1v1h-1zM667 404h2v1h-2zM702 404h1v1h-1zM62 405h1v1h-1zM251 405h1v1h-1zM269 405h2v1h-2zM521 405h1v1h-1zM622 405h2v1h-2zM669 405h3v1h-3zM701 405h1v1h-1zM61 406h1v1h-1zM252 406h2v1h-2zM268 406h1v1h-1zM521 406h1v1h-1zM621 406h1v1h-1zM672 406h2v1h-2zM700 406h1v1h-1zM254 407h9v1h-9zM267 407h1v1h-1zM522 407h1v1h-1zM620 407h1v1h-1zM674 407h2v1h-2zM698 407h2v1h-2zM263 408h4v1h-4zM523 408h1v1h-1zM620 408h1v1h-1zM676 408h1v1h-1zM697 408h1v1h-1zM523 409h1v1h-1zM587 409h4v1h-4zM619 409h1v1h-1zM677 409h2v1h-2zM696 409h1v1h-1zM524 410h1v1h-1zM585 410h2v1h-2zM591 410h2v1h-2zM618 410h1v1h-1zM679 410h1v1h-1zM696 410h1v1h-1zM525 411h2v1h-2zM583 411h2v1h-2zM593 411h9v1h-9zM609 411h4v1h-4zM618 411h1v1h-1zM680 411h2v1h-2zM695 411h1v1h-1zM527 412h2v1h-2zM581 412h2v1h-2zM602 412h2v1h-2zM608 412h1v1h-1zM613 412h5v1h-5zM682 412h3v1h-3zM694 412h1v1h-1zM529 413h6v1h-6zM580 413h1v1h-1zM604 413h4v1h-4zM685 413h3v1h-3zM693 413h1v1h-1zM535 414h7v1h-7zM578 414h2v1h-2zM688 414h5v1h-5zM542 415h3v1h-3zM550 415h3v1h-3zM576 415h2v1h-2zM545 416h5v1h-5zM553 416h11v1h-11zM574 416h2v1h-2zM564 417h10v1h-10z"/>
<rect x="47.5" y="357.5" width="692" height="61" fill="none" stroke="#000" stroke-width="1"/>
<text y="370"><tspan x="51.90" letter-spacing="-0.648">STS</tspan><tspan x="75.05">-</tspan><tspan x="81.45" letter-spacing="0.048">Stochastic</tspan><tspan x="135.18" letter-spacing="-0.016">(15,3,5)</tspan><tspan x="176.40" letter-spacing="-0.005">[41,12]</tspan></text>
<rect x="740" y="394" width="3" height="1" fill="#000"/>
<text x="746.3" y="399" text-anchor="start" xml:space="preserve" letter-spacing="-0.08">50</text>
<rect x="66" y="421" width="1" height="60" fill="#dcdcdc"/>
<rect x="142" y="421" width="1" height="60" fill="#dcdcdc"/>
<rect x="217" y="421" width="1" height="60" fill="#dcdcdc"/>
<rect x="293" y="421" width="1" height="60" fill="#dcdcdc"/>
<rect x="357" y="421" width="1" height="60" fill="#dcdcdc"/>
<rect x="433" y="421" width="1" height="60" fill="#dcdcdc"/>
<rect x="503" y="421" width="1" height="60" fill="#dcdcdc"/>
<rect x="573" y="421" width="1" height="60" fill="#dcdcdc"/>
<rect x="648" y="421" width="1" height="60" fill="#dcdcdc"/>
<rect x="48" y="448" width="691" height="1" fill="#dcdcdc"/>
<rect x="48" y="464" width="691" height="1" fill="#dcdcdc"/>
<rect x="48" y="421" width="232" height="16" fill="#fff"/>
<rect x="60" y="440" width="659" height="1" fill="#969696"/>
<rect x="60" y="472" width="659" height="1" fill="#969696"/>
<path fill="#ff0000" d="M378 436h2v1h-2zM418 436h5v1h-5zM376 437h2v1h-2zM380 437h1v1h-1zM416 437h2v1h-2zM423 437h1v1h-1zM374 438h2v1h-2zM380 438h1v1h-1zM400 438h3v1h-3zM414 438h2v1h-2zM423 438h1v1h-1zM373 439h1v1h-1zM381 439h1v1h-1zM390 439h4v1h-4zM398 439h2v1h-2zM403 439h7v1h-7zM412 439h2v1h-2zM424 439h1v1h-1zM373 440h1v1h-1zM382 440h1v1h-1zM389 440h1v1h-1zM394 440h4v1h-4zM410 440h2v1h-2zM424 440h1v1h-1zM372 441h1v1h-1zM382 441h1v1h-1zM388 441h1v1h-1zM424 441h1v1h-1zM372 442h1v1h-1zM383 442h1v1h-1zM387 442h1v1h-1zM425 442h1v1h-1zM352 443h1v1h-1zM371 443h1v1h-1zM383 443h1v1h-1zM385 443h2v1h-2zM425 443h1v1h-1zM341 444h1v1h-1zM350 444h2v1h-2zM353 444h3v1h-3zM370 444h1v1h-1zM384 444h1v1h-1zM426 444h1v1h-1zM459 444h4v1h-4zM340 445h1v1h-1zM342 445h2v1h-2zM349 445h1v1h-1zM356 445h10v1h-10zM370 445h1v1h-1zM426 445h1v1h-1zM432 445h7v1h-7zM457 445h2v1h-2zM463 445h2v1h-2zM469 445h4v1h-4zM340 446h1v1h-1zM344 446h2v1h-2zM347 446h2v1h-2zM366 446h4v1h-4zM427 446h1v1h-1zM429 446h3v1h-3zM439 446h2v1h-2zM455 446h2v1h-2zM465 446h4v1h-4zM473 446h2v1h-2zM292 447h5v1h-5zM339 447h1v1h-1zM346 447h1v1h-1zM427 447h2v1h-2zM441 447h1v1h-1zM448 447h7v1h-7zM475 447h1v1h-1zM289 448h3v1h-3zM297 448h4v1h-4zM339 448h1v1h-1zM442 448h1v1h-1zM445 448h3v1h-3zM476 448h2v1h-2zM287 449h2v1h-2zM301 449h2v1h-2zM338 449h1v1h-1zM443 449h2v1h-2zM478 449h1v1h-1zM158 450h4v1h-4zM286 450h1v1h-1zM303 450h1v1h-1zM337 450h1v1h-1zM479 450h1v1h-1zM491 450h5v1h-5zM506 450h4v1h-4zM156 451h2v1h-2zM162 451h3v1h-3zM187 451h4v1h-4zM203 451h4v1h-4zM284 451h2v1h-2zM304 451h1v1h-1zM333 451h4v1h-4zM480 451h1v1h-1zM485 451h6v1h-6zM496 451h10v1h-10zM510 451h1v1h-1zM154 452h2v1h-2zM165 452h3v1h-3zM185 452h2v1h-2zM191 452h2v1h-2zM200 452h3v1h-3zM207 452h2v1h-2zM281 452h3v1h-3zM305 452h1v1h-1zM318 452h15v1h-15zM481 452h4v1h-4zM511 452h1v1h-1zM92 453h8v1h-8zM122 453h6v1h-6zM153 453h1v1h-1zM168 453h3v1h-3zM183 453h2v1h-2zM193 453h1v1h-1zM199 453h1v1h-1zM209 453h2v1h-2zM228 453h1v1h-1zM278 453h3v1h-3zM306 453h1v1h-1zM317 453h1v1h-1zM512 453h1v1h-1zM91 454h1v1h-1zM100 454h2v1h-2zM111 454h11v1h-11zM128 454h2v1h-2zM151 454h2v1h-2zM171 454h5v1h-5zM181 454h2v1h-2zM194 454h2v1h-2zM197 454h2v1h-2zM211 454h2v1h-2zM226 454h2v1h-2zM229 454h2v1h-2zM275 454h3v1h-3zM307 454h2v1h-2zM315 454h2v1h-2zM513 454h1v1h-1zM89 455h2v1h-2zM102 455h1v1h-1zM107 455h4v1h-4zM130 455h9v1h-9zM149 455h2v1h-2zM176 455h5v1h-5zM196 455h1v1h-1zM213 455h1v1h-1zM225 455h1v1h-1zM231 455h1v1h-1zM274 455h1v1h-1zM309 455h6v1h-6zM514 455h1v1h-1zM65 456h9v1h-9zM87 456h2v1h-2zM103 456h1v1h-1zM105 456h2v1h-2zM139 456h2v1h-2zM146 456h3v1h-3zM214 456h1v1h-1zM223 456h2v1h-2zM232 456h1v1h-1zM272 456h2v1h-2zM514 456h1v1h-1zM64 457h1v1h-1zM74 457h2v1h-2zM84 457h3v1h-3zM104 457h1v1h-1zM141 457h5v1h-5zM214 457h1v1h-1zM222 457h1v1h-1zM233 457h3v1h-3zM271 457h1v1h-1zM515 457h1v1h-1zM718 457h1v1h-1zM63 458h1v1h-1zM76 458h8v1h-8zM215 458h1v1h-1zM221 458h1v1h-1zM236 458h4v1h-4zM270 458h1v1h-1zM516 458h1v1h-1zM637 458h3v1h-3zM717 458h1v1h-1zM62 459h1v1h-1zM215 459h1v1h-1zM221 459h1v1h-1zM240 459h1v1h-1zM269 459h1v1h-1zM516 459h1v1h-1zM635 459h2v1h-2zM640 459h2v1h-2zM717 459h1v1h-1zM61 460h1v1h-1zM216 460h1v1h-1zM220 460h1v1h-1zM241 460h1v1h-1zM249 460h5v1h-5zM268 460h1v1h-1zM517 460h1v1h-1zM633 460h2v1h-2zM642 460h1v1h-1zM716 460h1v1h-1zM216 461h1v1h-1zM219 461h1v1h-1zM242 461h1v1h-1zM247 461h2v1h-2zM254 461h2v1h-2zM267 461h1v1h-1zM518 461h1v1h-1zM622 461h2v1h-2zM630 461h3v1h-3zM643 461h1v1h-1zM716 461h1v1h-1zM217 462h2v1h-2zM243 462h1v1h-1zM245 462h2v1h-2zM256 462h2v1h-2zM265 462h2v1h-2zM518 462h1v1h-1zM621 462h1v1h-1zM624 462h6v1h-6zM644 462h1v1h-1zM715 462h1v1h-1zM217 463h1v1h-1zM244 463h1v1h-1zM258 463h1v1h-1zM263 463h2v1h-2zM519 463h1v1h-1zM620 463h1v1h-1zM645 463h1v1h-1zM697 463h3v1h-3zM714 463h1v1h-1zM259 464h1v1h-1zM261 464h2v1h-2zM520 464h2v1h-2zM530 464h2v1h-2zM620 464h1v1h-1zM645 464h1v1h-1zM697 464h1v1h-1zM700 464h5v1h-5zM714 464h1v1h-1zM260 465h1v1h-1zM522 465h1v1h-1zM528 465h2v1h-2zM532 465h2v1h-2zM619 465h1v1h-1zM646 465h1v1h-1zM653 465h5v1h-5zM696 465h1v1h-1zM705 465h9v1h-9zM523 466h5v1h-5zM534 466h1v1h-1zM619 466h1v1h-1zM647 466h1v1h-1zM651 466h2v1h-2zM658 466h5v1h-5zM696 466h1v1h-1zM535 467h8v1h-8zM579 467h1v1h-1zM618 467h1v1h-1zM647 467h1v1h-1zM649 467h2v1h-2zM663 467h3v1h-3zM695 467h1v1h-1zM543 468h5v1h-5zM578 468h1v1h-1zM580 468h6v1h-6zM618 468h1v1h-1zM648 468h1v1h-1zM666 468h10v1h-10zM695 468h1v1h-1zM548 469h2v1h-2zM578 469h1v1h-1zM586 469h2v1h-2zM610 469h1v1h-1zM617 469h1v1h-1zM676 469h1v1h-1zM694 469h1v1h-1zM550 470h1v1h-1zM577 470h1v1h-1zM588 470h4v1h-4zM597 470h5v1h-5zM609 470h1v1h-1zM611 470h2v1h-2zM617 470h1v1h-1zM677 470h1v1h-1zM694 470h1v1h-1zM551 471h1v1h-1zM577 471h1v1h-1zM592 471h5v1h-5zM602 471h1v1h-1zM609 471h1v1h-1zM613 471h2v1h-2zM616 471h1v1h-1zM678 471h1v1h-1zM693 471h1v1h-1zM552 472h2v1h-2zM576 472h1v1h-1zM603 472h1v1h-1zM608 472h1v1h-1zM615 472h2v1h-2zM678 472h1v1h-1zM693 472h1v1h-1zM554 473h1v1h-1zM576 473h1v1h-1zM604 473h1v1h-1zM607 473h1v1h-1zM679 473h1v1h-1zM691 473h2v1h-2zM555 474h2v1h-2zM576 474h1v1h-1zM604 474h1v1h-1zM606 474h1v1h-1zM680 474h1v1h-1zM688 474h3v1h-3zM557 475h1v1h-1zM575 475h1v1h-1zM605 475h1v1h-1zM681 475h7v1h-7zM558 476h2v1h-2zM575 476h1v1h-1zM560 477h2v1h-2zM575 477h1v1h-1zM562 478h2v1h-2zM574 478h1v1h-1zM564 479h5v1h-5zM574 479h1v1h-1zM569 480h5v1h-5z"/>
<rect x="47.5" y="420.5" width="692" height="61" fill="none" stroke="#000" stroke-width="1"/>
<text y="433"><tspan x="51.49" letter-spacing="-0.800">RSI</tspan><tspan x="71.10">-</tspan><tspan x="77.29" letter-spacing="-0.193">Relative</tspan><tspan x="118.45" letter-spacing="-0.165">Strength</tspan><tspan x="162.25" letter-spacing="-0.377">Index</tspan><tspan x="191.28" letter-spacing="-0.039">(14,30,70)</tspan><tspan x="244.40" letter-spacing="-0.005">[48,87]</tspan></text>
<rect x="740" y="448" width="3" height="1" fill="#000"/>
<text x="746.3" y="453" text-anchor="start" xml:space="preserve" letter-spacing="-0.08">60</text>
<rect x="740" y="464" width="3" height="1" fill="#000"/>
<text x="746.3" y="469" text-anchor="start" xml:space="preserve" letter-spacing="-0.08">40</text>
<text x="402" y="496" text-anchor="middle" xml:space="preserve">(C)Stooq</text>
</svg>
</body></html>
